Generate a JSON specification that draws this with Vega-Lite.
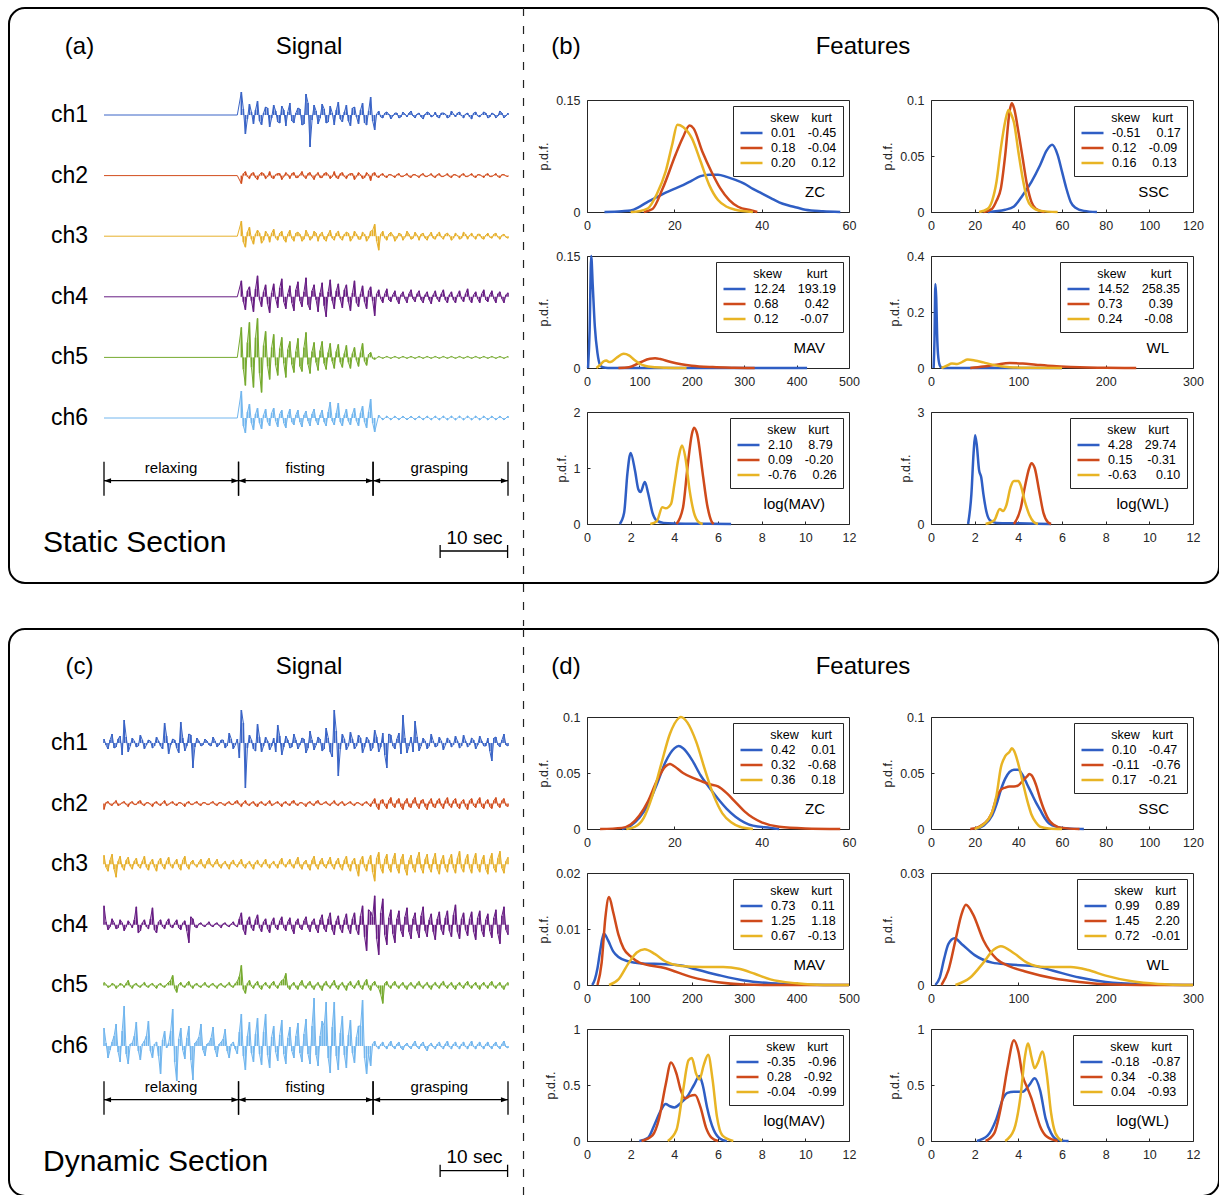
{
"$schema":"https://vega.github.io/schema/vega-lite/v6.json",
"background":"white",
"padding":{"left":7,"top":7,"right":0,"bottom":0},
"config":{"font":"Liberation Sans","view":{"stroke":null},
 "axis":{"grid":false,"domain":false,"tickColor":"#262626","tickSize":-3,"labelPadding":10,"labelFontSize":12.5,"labelColor":"#262626","labelOverlap":false,"labelFlush":false,"titleFontSize":12.5,"titleFontWeight":"normal","titleColor":"#262626","titlePadding":5},
 "legend":{"orient":"top-right","offset":6,"padding":6,"strokeColor":"#262626","fillColor":"#ffffff","symbolType":"stroke","symbolStrokeWidth":2.5,"symbolSize":484,"clipHeight":13,"rowPadding":2,"labelFontSize":12.5,"labelColor":"#000","labelOffset":7,"labelLimit":0,"titleFontSize":12.5,"titleFontWeight":"normal","titleColor":"#000","titlePadding":2,"titleLimit":0}},
"datasets":{
"seg":[{"s":0,"e":33.3,"m":16.6,"lab":"relaxing"},{"s":33.3,"e":66.6,"m":49.8,"lab":"fisting"},{"s":66.6,"e":100,"m":83,"lab":"grasping"}],
"sa1":[{"t":0,"v":0},{"t":33,"v":0},{"t":34,"v":2.3},{"t":35,"v":-1.9},{"t":36,"v":1.1},{"t":37,"v":-0.9},{"t":38,"v":1.4},{"t":39,"v":-1},{"t":40,"v":0.8},{"t":41,"v":-1.2},{"t":42,"v":1},{"t":43,"v":-0.7},{"t":44,"v":0.9},{"t":45,"v":-1.1},{"t":46,"v":1.2},{"t":47,"v":-0.8},{"t":48,"v":0.7},{"t":49,"v":-1},{"t":50,"v":2.1},{"t":51,"v":-3.2},{"t":52,"v":1},{"t":53,"v":-0.9},{"t":54,"v":1.1},{"t":55,"v":-0.8},{"t":56,"v":0.9},{"t":57,"v":-1},{"t":58,"v":1.3},{"t":59,"v":-0.7},{"t":60,"v":1},{"t":61,"v":-1.1},{"t":62,"v":0.8},{"t":63,"v":-0.9},{"t":64,"v":1.2},{"t":65,"v":-1},{"t":66,"v":1.8},{"t":67,"v":-1.5},{"t":68,"v":0.4},{"t":69,"v":-0.3},{"t":70,"v":0.3},{"t":71,"v":-0.4},{"t":72,"v":0.2},{"t":73,"v":-0.3},{"t":74,"v":0.3},{"t":75,"v":-0.2},{"t":76,"v":0.4},{"t":77,"v":-0.3},{"t":78,"v":0.2},{"t":79,"v":-0.4},{"t":80,"v":0.3},{"t":81,"v":-0.2},{"t":82,"v":0.3},{"t":83,"v":-0.3},{"t":84,"v":0.2},{"t":85,"v":-0.3},{"t":86,"v":0.4},{"t":87,"v":-0.2},{"t":88,"v":0.3},{"t":89,"v":-0.3},{"t":90,"v":0.2},{"t":91,"v":-0.4},{"t":92,"v":0.3},{"t":93,"v":-0.2},{"t":94,"v":0.3},{"t":95,"v":-0.3},{"t":96,"v":0.2},{"t":97,"v":-0.3},{"t":98,"v":0.4},{"t":99,"v":-0.3},{"t":100,"v":0.2},
{"t":34.5,"v":0.6},{"t":35.5,"v":-0.4},{"t":36.5,"v":0.3},{"t":37.5,"v":0.5},{"t":38.5,"v":-0.6},{"t":39.5,"v":0.2},{"t":40.5,"v":0.7},{"t":41.5,"v":-0.3},{"t":42.5,"v":0.4},{"t":43.5,"v":-0.8},{"t":44.5,"v":0.5},{"t":45.5,"v":0.3},{"t":46.5,"v":-0.6},{"t":47.5,"v":0.2},{"t":48.5,"v":0.6},{"t":49.5,"v":-0.9},{"t":50.5,"v":1.2},{"t":51.5,"v":-0.5},{"t":52.5,"v":0.4},{"t":53.5,"v":-0.3},{"t":54.5,"v":0.6},{"t":55.5,"v":-0.7},{"t":56.5,"v":0.2},{"t":57.5,"v":0.5},{"t":58.5,"v":-0.4},{"t":59.5,"v":0.3},{"t":60.5,"v":-0.6},{"t":61.5,"v":0.7},{"t":62.5,"v":-0.2},{"t":63.5,"v":0.5},{"t":64.5,"v":-0.8},{"t":65.5,"v":0.4},{"t":66.5,"v":-0.6},{"t":67.5,"v":0.1},{"t":68.5,"v":-0.2},{"t":69.5,"v":0.2},{"t":70.5,"v":0.1},{"t":71.5,"v":-0.1},{"t":72.5,"v":0.2},{"t":73.5,"v":-0.2},{"t":74.5,"v":0.1},{"t":75.5,"v":0.2},{"t":76.5,"v":-0.1},{"t":77.5,"v":0.1},{"t":78.5,"v":-0.2},{"t":79.5,"v":0.1},{"t":80.5,"v":0.2},{"t":81.5,"v":-0.1},{"t":82.5,"v":-0.2},{"t":83.5,"v":0.2},{"t":84.5,"v":0.1},{"t":85.5,"v":-0.2},{"t":86.5,"v":0.1},{"t":87.5,"v":0.2},{"t":88.5,"v":-0.1},{"t":89.5,"v":0.1},{"t":90.5,"v":-0.2},{"t":91.5,"v":0.2},{"t":92.5,"v":-0.1},{"t":93.5,"v":0.1},{"t":94.5,"v":0.2},{"t":95.5,"v":-0.2},{"t":96.5,"v":0.1},{"t":97.5,"v":-0.1},{"t":98.5,"v":0.2},{"t":99.5,"v":-0.1}],
"sa2":[{"t":0,"v":0},{"t":33,"v":0},{"t":34,"v":-0.8},{"t":35,"v":0.4},{"t":36,"v":-0.3},{"t":37,"v":0.3},{"t":38,"v":-0.4},{"t":39,"v":0.3},{"t":40,"v":-0.3},{"t":41,"v":0.4},{"t":42,"v":-0.3},{"t":43,"v":0.2},{"t":44,"v":-0.4},{"t":45,"v":0.3},{"t":46,"v":-0.3},{"t":47,"v":0.3},{"t":48,"v":-0.2},{"t":49,"v":0.4},{"t":50,"v":-0.3},{"t":51,"v":0.3},{"t":52,"v":-0.4},{"t":53,"v":0.3},{"t":54,"v":-0.2},{"t":55,"v":0.3},{"t":56,"v":-0.3},{"t":57,"v":0.4},{"t":58,"v":-0.3},{"t":59,"v":0.3},{"t":60,"v":-0.3},{"t":61,"v":0.2},{"t":62,"v":-0.4},{"t":63,"v":0.3},{"t":64,"v":-0.3},{"t":65,"v":0.3},{"t":66,"v":-0.5},{"t":67,"v":0.3},{"t":68,"v":-0.2},{"t":69,"v":0.2},{"t":70,"v":-0.2},{"t":71,"v":0.1},{"t":72,"v":-0.2},{"t":73,"v":0.2},{"t":74,"v":-0.1},{"t":75,"v":0.2},{"t":76,"v":-0.2},{"t":77,"v":0.1},{"t":78,"v":-0.2},{"t":79,"v":0.2},{"t":80,"v":-0.1},{"t":81,"v":0.2},{"t":82,"v":-0.2},{"t":83,"v":0.2},{"t":84,"v":-0.1},{"t":85,"v":0.2},{"t":86,"v":-0.2},{"t":87,"v":0.1},{"t":88,"v":-0.2},{"t":89,"v":0.2},{"t":90,"v":-0.1},{"t":91,"v":0.2},{"t":92,"v":-0.2},{"t":93,"v":0.1},{"t":94,"v":-0.2},{"t":95,"v":0.2},{"t":96,"v":-0.1},{"t":97,"v":0.2},{"t":98,"v":-0.2},{"t":99,"v":0.1},{"t":100,"v":-0.1},
{"t":34.5,"v":0.2},{"t":35.5,"v":-0.1},{"t":36.5,"v":0.2},{"t":37.5,"v":-0.2},{"t":38.5,"v":0.1},{"t":39.5,"v":0.2},{"t":40.5,"v":-0.1},{"t":41.5,"v":-0.2},{"t":42.5,"v":0.1},{"t":43.5,"v":0.2},{"t":44.5,"v":-0.1},{"t":45.5,"v":0.1},{"t":46.5,"v":0.2},{"t":47.5,"v":-0.2},{"t":48.5,"v":0.1},{"t":49.5,"v":-0.1},{"t":50.5,"v":0.2},{"t":51.5,"v":-0.1},{"t":52.5,"v":0.1},{"t":53.5,"v":-0.2},{"t":54.5,"v":0.2},{"t":55.5,"v":0.1},{"t":56.5,"v":-0.1},{"t":57.5,"v":-0.2},{"t":58.5,"v":0.2},{"t":59.5,"v":-0.1},{"t":60.5,"v":0.1},{"t":61.5,"v":0.2},{"t":62.5,"v":-0.1},{"t":63.5,"v":0.1},{"t":64.5,"v":-0.2},{"t":65.5,"v":0.1},{"t":66.5,"v":0.2},{"t":67.5,"v":-0.1},{"t":68.5,"v":0.1},{"t":69.5,"v":-0.1},{"t":70.5,"v":0.1},{"t":71.5,"v":-0.05},{"t":72.5,"v":0.1},{"t":73.5,"v":-0.1},{"t":74.5,"v":0.05},{"t":75.5,"v":-0.1},{"t":76.5,"v":0.1},{"t":77.5,"v":-0.05},{"t":78.5,"v":0.1},{"t":79.5,"v":-0.1},{"t":80.5,"v":0.05},{"t":81.5,"v":-0.1},{"t":82.5,"v":0.1},{"t":83.5,"v":-0.1},{"t":84.5,"v":0.05},{"t":85.5,"v":-0.1},{"t":86.5,"v":0.1},{"t":87.5,"v":-0.05},{"t":88.5,"v":0.1},{"t":89.5,"v":-0.1},{"t":90.5,"v":0.05},{"t":91.5,"v":-0.1},{"t":92.5,"v":0.1},{"t":93.5,"v":-0.05},{"t":94.5,"v":0.1},{"t":95.5,"v":-0.1},{"t":96.5,"v":0.05},{"t":97.5,"v":-0.1},{"t":98.5,"v":0.1},{"t":99.5,"v":-0.05}],
"sa3":[{"t":0,"v":0},{"t":33,"v":0},{"t":34,"v":1.5},{"t":35,"v":-1.1},{"t":36,"v":0.9},{"t":37,"v":-0.8},{"t":38,"v":0.6},{"t":39,"v":-0.7},{"t":40,"v":0.5},{"t":41,"v":-0.6},{"t":42,"v":0.7},{"t":43,"v":-0.4},{"t":44,"v":0.5},{"t":45,"v":-0.6},{"t":46,"v":0.6},{"t":47,"v":-0.5},{"t":48,"v":0.4},{"t":49,"v":-0.5},{"t":50,"v":0.6},{"t":51,"v":-0.4},{"t":52,"v":0.5},{"t":53,"v":-0.5},{"t":54,"v":0.4},{"t":55,"v":-0.5},{"t":56,"v":0.6},{"t":57,"v":-0.4},{"t":58,"v":0.5},{"t":59,"v":-0.4},{"t":60,"v":0.4},{"t":61,"v":-0.5},{"t":62,"v":0.5},{"t":63,"v":-0.3},{"t":64,"v":0.4},{"t":65,"v":-0.5},{"t":66,"v":0.5},{"t":67,"v":1.2},{"t":68,"v":-1.4},{"t":69,"v":0.5},{"t":70,"v":-0.4},{"t":71,"v":0.4},{"t":72,"v":-0.5},{"t":73,"v":0.3},{"t":74,"v":-0.4},{"t":75,"v":0.5},{"t":76,"v":-0.3},{"t":77,"v":0.4},{"t":78,"v":-0.4},{"t":79,"v":0.3},{"t":80,"v":-0.4},{"t":81,"v":0.4},{"t":82,"v":-0.3},{"t":83,"v":0.4},{"t":84,"v":-0.3},{"t":85,"v":0.3},{"t":86,"v":-0.4},{"t":87,"v":0.3},{"t":88,"v":-0.3},{"t":89,"v":0.4},{"t":90,"v":-0.3},{"t":91,"v":0.3},{"t":92,"v":-0.3},{"t":93,"v":0.2},{"t":94,"v":-0.3},{"t":95,"v":0.3},{"t":96,"v":-0.2},{"t":97,"v":0.3},{"t":98,"v":-0.3},{"t":99,"v":0.2},{"t":100,"v":-0.2},
{"t":34.5,"v":-0.6},{"t":35.5,"v":0.4},{"t":36.5,"v":-0.3},{"t":37.5,"v":0.2},{"t":38.5,"v":0.3},{"t":39.5,"v":-0.4},{"t":40.5,"v":0.2},{"t":41.5,"v":0.3},{"t":42.5,"v":-0.2},{"t":43.5,"v":0.3},{"t":44.5,"v":-0.3},{"t":45.5,"v":0.2},{"t":46.5,"v":-0.2},{"t":47.5,"v":0.3},{"t":48.5,"v":0.2},{"t":49.5,"v":-0.3},{"t":50.5,"v":0.2},{"t":51.5,"v":-0.2},{"t":52.5,"v":0.3},{"t":53.5,"v":0.2},{"t":54.5,"v":-0.3},{"t":55.5,"v":0.2},{"t":56.5,"v":-0.2},{"t":57.5,"v":0.3},{"t":58.5,"v":-0.2},{"t":59.5,"v":0.2},{"t":60.5,"v":0.3},{"t":61.5,"v":-0.2},{"t":62.5,"v":0.2},{"t":63.5,"v":-0.3},{"t":64.5,"v":0.2},{"t":65.5,"v":-0.2},{"t":66.5,"v":0.6},{"t":67.5,"v":-0.5},{"t":68.5,"v":0.2},{"t":69.5,"v":-0.2},{"t":70.5,"v":0.2},{"t":71.5,"v":0.1},{"t":72.5,"v":-0.2},{"t":73.5,"v":0.2},{"t":74.5,"v":-0.1},{"t":75.5,"v":0.2},{"t":76.5,"v":-0.2},{"t":77.5,"v":0.1},{"t":78.5,"v":0.2},{"t":79.5,"v":-0.2},{"t":80.5,"v":0.1},{"t":81.5,"v":-0.2},{"t":82.5,"v":0.2},{"t":83.5,"v":-0.1},{"t":84.5,"v":0.2},{"t":85.5,"v":0.1},{"t":86.5,"v":-0.2},{"t":87.5,"v":0.1},{"t":88.5,"v":-0.2},{"t":89.5,"v":0.2},{"t":90.5,"v":0.1},{"t":91.5,"v":-0.1},{"t":92.5,"v":0.2},{"t":93.5,"v":-0.2},{"t":94.5,"v":0.1},{"t":95.5,"v":-0.1},{"t":96.5,"v":0.2},{"t":97.5,"v":-0.1},{"t":98.5,"v":0.1},{"t":99.5,"v":-0.1}],
"sa4":[{"t":0,"v":0},{"t":33,"v":0},{"t":34,"v":1.6},{"t":35,"v":-1.3},{"t":36,"v":1},{"t":37,"v":-1.5},{"t":38,"v":2.1},{"t":39,"v":-1},{"t":40,"v":1.2},{"t":41,"v":-1.6},{"t":42,"v":1.3},{"t":43,"v":-1.1},{"t":44,"v":1.8},{"t":45,"v":-1.2},{"t":46,"v":1.1},{"t":47,"v":-1.4},{"t":48,"v":1.5},{"t":49,"v":-1},{"t":50,"v":1.9},{"t":51,"v":-1.3},{"t":52,"v":1.2},{"t":53,"v":-1.5},{"t":54,"v":1.4},{"t":55,"v":-2},{"t":56,"v":1.7},{"t":57,"v":-1.2},{"t":58,"v":1.3},{"t":59,"v":-1.1},{"t":60,"v":1.2},{"t":61,"v":-1.4},{"t":62,"v":1.6},{"t":63,"v":-1},{"t":64,"v":1.1},{"t":65,"v":-1.2},{"t":66,"v":1},{"t":67,"v":-1.9},{"t":68,"v":0.7},{"t":69,"v":-0.6},{"t":70,"v":0.8},{"t":71,"v":-0.5},{"t":72,"v":0.6},{"t":73,"v":-0.7},{"t":74,"v":0.5},{"t":75,"v":-0.6},{"t":76,"v":0.7},{"t":77,"v":-0.5},{"t":78,"v":0.6},{"t":79,"v":-0.6},{"t":80,"v":0.5},{"t":81,"v":-0.7},{"t":82,"v":0.6},{"t":83,"v":-0.5},{"t":84,"v":0.7},{"t":85,"v":-0.6},{"t":86,"v":0.5},{"t":87,"v":-0.6},{"t":88,"v":0.6},{"t":89,"v":-0.5},{"t":90,"v":0.8},{"t":91,"v":-0.6},{"t":92,"v":0.5},{"t":93,"v":-0.6},{"t":94,"v":0.7},{"t":95,"v":-0.5},{"t":96,"v":0.6},{"t":97,"v":-0.6},{"t":98,"v":0.5},{"t":99,"v":-0.6},{"t":100,"v":0.4},
{"t":34.5,"v":-0.5},{"t":35.5,"v":0.6},{"t":36.5,"v":-0.4},{"t":37.5,"v":0.8},{"t":38.5,"v":-0.3},{"t":39.5,"v":0.5},{"t":40.5,"v":-0.7},{"t":41.5,"v":0.4},{"t":42.5,"v":-0.2},{"t":43.5,"v":0.9},{"t":44.5,"v":-0.5},{"t":45.5,"v":0.3},{"t":46.5,"v":-0.6},{"t":47.5,"v":0.7},{"t":48.5,"v":-0.4},{"t":49.5,"v":0.5},{"t":50.5,"v":-0.8},{"t":51.5,"v":0.6},{"t":52.5,"v":-0.3},{"t":53.5,"v":0.4},{"t":54.5,"v":-0.9},{"t":55.5,"v":0.5},{"t":56.5,"v":-0.4},{"t":57.5,"v":0.6},{"t":58.5,"v":-0.3},{"t":59.5,"v":0.7},{"t":60.5,"v":-0.5},{"t":61.5,"v":0.4},{"t":62.5,"v":-0.6},{"t":63.5,"v":0.3},{"t":64.5,"v":-0.5},{"t":65.5,"v":0.6},{"t":66.5,"v":-0.4},{"t":67.5,"v":0.3},{"t":68.5,"v":-0.2},{"t":69.5,"v":0.3},{"t":70.5,"v":-0.3},{"t":71.5,"v":0.2},{"t":72.5,"v":-0.3},{"t":73.5,"v":0.2},{"t":74.5,"v":-0.2},{"t":75.5,"v":0.3},{"t":76.5,"v":-0.2},{"t":77.5,"v":0.3},{"t":78.5,"v":-0.3},{"t":79.5,"v":0.2},{"t":80.5,"v":-0.3},{"t":81.5,"v":0.2},{"t":82.5,"v":-0.2},{"t":83.5,"v":0.3},{"t":84.5,"v":-0.3},{"t":85.5,"v":0.2},{"t":86.5,"v":-0.3},{"t":87.5,"v":0.2},{"t":88.5,"v":-0.2},{"t":89.5,"v":0.3},{"t":90.5,"v":-0.3},{"t":91.5,"v":0.2},{"t":92.5,"v":-0.2},{"t":93.5,"v":0.3},{"t":94.5,"v":-0.3},{"t":95.5,"v":0.2},{"t":96.5,"v":-0.2},{"t":97.5,"v":0.3},{"t":98.5,"v":-0.2},{"t":99.5,"v":0.2}],
"sa5":[{"t":0,"v":0},{"t":33,"v":0},{"t":34,"v":3},{"t":35,"v":-2.8},{"t":36,"v":3.5},{"t":37,"v":-3},{"t":38,"v":3.9},{"t":39,"v":-3.5},{"t":40,"v":2.6},{"t":41,"v":-2.2},{"t":42,"v":2.3},{"t":43,"v":-1.8},{"t":44,"v":2},{"t":45,"v":-2},{"t":46,"v":1.6},{"t":47,"v":-1.5},{"t":48,"v":1.9},{"t":49,"v":-1.4},{"t":50,"v":2.5},{"t":51,"v":-1.6},{"t":52,"v":1.5},{"t":53,"v":-1.3},{"t":54,"v":1.6},{"t":55,"v":-1.2},{"t":56,"v":1.4},{"t":57,"v":-1.1},{"t":58,"v":1.3},{"t":59,"v":-1},{"t":60,"v":1.2},{"t":61,"v":-1.1},{"t":62,"v":1},{"t":63,"v":-0.9},{"t":64,"v":1.4},{"t":65,"v":-0.8},{"t":66,"v":0.5},{"t":67,"v":-0.2},{"t":68,"v":0.1},{"t":69,"v":-0.1},{"t":70,"v":0.1},{"t":71,"v":-0.1},{"t":72,"v":0.1},{"t":73,"v":-0.1},{"t":74,"v":0.1},{"t":75,"v":-0.1},{"t":76,"v":0.1},{"t":77,"v":-0.1},{"t":78,"v":0.1},{"t":79,"v":-0.1},{"t":80,"v":0.1},{"t":81,"v":-0.1},{"t":82,"v":0.1},{"t":83,"v":-0.1},{"t":84,"v":0.1},{"t":85,"v":-0.1},{"t":86,"v":0.1},{"t":87,"v":-0.1},{"t":88,"v":0.1},{"t":89,"v":-0.1},{"t":90,"v":0.1},{"t":91,"v":-0.1},{"t":92,"v":0.1},{"t":93,"v":-0.1},{"t":94,"v":0.1},{"t":95,"v":-0.1},{"t":96,"v":0.1},{"t":97,"v":-0.1},{"t":98,"v":0.1},{"t":99,"v":-0.1},{"t":100,"v":0.1},
{"t":34.5,"v":-1.2},{"t":35.5,"v":1.5},{"t":36.5,"v":-1},{"t":37.5,"v":2},{"t":38.5,"v":-1.6},{"t":39.5,"v":1.2},{"t":40.5,"v":-0.9},{"t":41.5,"v":1},{"t":42.5,"v":-0.8},{"t":43.5,"v":0.9},{"t":44.5,"v":-0.6},{"t":45.5,"v":0.8},{"t":46.5,"v":-0.7},{"t":47.5,"v":0.6},{"t":48.5,"v":-0.9},{"t":49.5,"v":1},{"t":50.5,"v":-0.7},{"t":51.5,"v":0.6},{"t":52.5,"v":-0.5},{"t":53.5,"v":0.7},{"t":54.5,"v":-0.6},{"t":55.5,"v":0.5},{"t":56.5,"v":-0.4},{"t":57.5,"v":0.6},{"t":58.5,"v":-0.5},{"t":59.5,"v":0.4},{"t":60.5,"v":-0.5},{"t":61.5,"v":0.4},{"t":62.5,"v":-0.3},{"t":63.5,"v":0.5},{"t":64.5,"v":-0.4},{"t":65.5,"v":0.3},{"t":66.5,"v":-0.1}],
"sa6":[{"t":0,"v":0},{"t":33,"v":0},{"t":34,"v":2.7},{"t":35,"v":-1.5},{"t":36,"v":1.4},{"t":37,"v":-1.2},{"t":38,"v":1},{"t":39,"v":-1.1},{"t":40,"v":0.9},{"t":41,"v":-0.8},{"t":42,"v":1},{"t":43,"v":-0.9},{"t":44,"v":0.8},{"t":45,"v":-1},{"t":46,"v":0.9},{"t":47,"v":-0.7},{"t":48,"v":0.8},{"t":49,"v":-0.9},{"t":50,"v":0.7},{"t":51,"v":-0.8},{"t":52,"v":0.9},{"t":53,"v":-0.7},{"t":54,"v":0.8},{"t":55,"v":-0.8},{"t":56,"v":1.6},{"t":57,"v":-0.7},{"t":58,"v":1.5},{"t":59,"v":-0.8},{"t":60,"v":0.9},{"t":61,"v":-0.7},{"t":62,"v":1},{"t":63,"v":-0.8},{"t":64,"v":1.2},{"t":65,"v":-1},{"t":66,"v":1.9},{"t":67,"v":-1.4},{"t":68,"v":0.3},{"t":69,"v":-0.2},{"t":70,"v":0.2},{"t":71,"v":-0.2},{"t":72,"v":0.2},{"t":73,"v":-0.2},{"t":74,"v":0.2},{"t":75,"v":-0.2},{"t":76,"v":0.2},{"t":77,"v":-0.2},{"t":78,"v":0.2},{"t":79,"v":-0.2},{"t":80,"v":0.2},{"t":81,"v":-0.2},{"t":82,"v":0.2},{"t":83,"v":-0.2},{"t":84,"v":0.2},{"t":85,"v":-0.2},{"t":86,"v":0.2},{"t":87,"v":-0.2},{"t":88,"v":0.2},{"t":89,"v":-0.2},{"t":90,"v":0.2},{"t":91,"v":-0.2},{"t":92,"v":0.2},{"t":93,"v":-0.2},{"t":94,"v":0.2},{"t":95,"v":-0.2},{"t":96,"v":0.2},{"t":97,"v":-0.2},{"t":98,"v":0.2},{"t":99,"v":-0.2},{"t":100,"v":0.2},
{"t":34.5,"v":-0.8},{"t":35.5,"v":0.6},{"t":36.5,"v":-0.5},{"t":37.5,"v":0.4},{"t":38.5,"v":-0.5},{"t":39.5,"v":0.3},{"t":40.5,"v":-0.4},{"t":41.5,"v":0.5},{"t":42.5,"v":-0.3},{"t":43.5,"v":0.4},{"t":44.5,"v":-0.5},{"t":45.5,"v":0.3},{"t":46.5,"v":-0.4},{"t":47.5,"v":0.3},{"t":48.5,"v":-0.4},{"t":49.5,"v":0.3},{"t":50.5,"v":-0.3},{"t":51.5,"v":0.4},{"t":52.5,"v":-0.3},{"t":53.5,"v":0.3},{"t":54.5,"v":-0.4},{"t":55.5,"v":0.6},{"t":56.5,"v":-0.3},{"t":57.5,"v":0.5},{"t":58.5,"v":-0.4},{"t":59.5,"v":0.3},{"t":60.5,"v":-0.3},{"t":61.5,"v":0.4},{"t":62.5,"v":-0.3},{"t":63.5,"v":0.5},{"t":64.5,"v":-0.4},{"t":65.5,"v":0.6},{"t":66.5,"v":-0.5}],
"sb1":[{"t":0,"v":0.4},{"t":1,"v":-0.6},{"t":2,"v":0.9},{"t":3,"v":-0.4},{"t":4,"v":0.7},{"t":5,"v":2.3},{"t":6,"v":-0.9},{"t":7,"v":0.5},{"t":8,"v":-0.4},{"t":9,"v":0.8},{"t":10,"v":-0.6},{"t":11,"v":0.3},{"t":12,"v":-0.5},{"t":13,"v":0.6},{"t":14,"v":-0.3},{"t":15,"v":2},{"t":16,"v":-1.1},{"t":17,"v":0.4},{"t":18,"v":-0.5},{"t":19,"v":2.1},{"t":20,"v":-0.8},{"t":21,"v":0.9},{"t":22,"v":-2.5},{"t":23,"v":0.5},{"t":24,"v":-0.3},{"t":25,"v":0.4},{"t":26,"v":-0.2},{"t":27,"v":0.6},{"t":28,"v":-0.4},{"t":29,"v":0.3},{"t":30,"v":-0.5},{"t":31,"v":1},{"t":32,"v":-0.6},{"t":33,"v":0.4},{"t":34,"v":3.3},{"t":35,"v":-4.5},{"t":36,"v":0.8},{"t":37,"v":-0.6},{"t":38,"v":1.9},{"t":39,"v":-0.9},{"t":40,"v":0.6},{"t":41,"v":-0.7},{"t":42,"v":0.5},{"t":43,"v":1.8},{"t":44,"v":-1.2},{"t":45,"v":0.7},{"t":46,"v":-0.5},{"t":47,"v":0.9},{"t":48,"v":-0.6},{"t":49,"v":0.5},{"t":50,"v":-1},{"t":51,"v":1.2},{"t":52,"v":-0.7},{"t":53,"v":0.6},{"t":54,"v":-0.8},{"t":55,"v":1.5},{"t":56,"v":-0.9},{"t":57,"v":3.3},{"t":58,"v":-3.3},{"t":59,"v":0.9},{"t":60,"v":-0.7},{"t":61,"v":1.1},{"t":62,"v":-0.6},{"t":63,"v":0.8},{"t":64,"v":-1},{"t":65,"v":0.6},{"t":66,"v":-0.8},{"t":67,"v":1.3},{"t":68,"v":-0.9},{"t":69,"v":1},{"t":70,"v":-2.5},{"t":71,"v":0.8},{"t":72,"v":-0.6},{"t":73,"v":1},{"t":74,"v":2.8},{"t":75,"v":-1},{"t":76,"v":0.6},{"t":77,"v":2.2},{"t":78,"v":-0.8},{"t":79,"v":0.5},{"t":80,"v":-0.6},{"t":81,"v":0.9},{"t":82,"v":-0.4},{"t":83,"v":0.6},{"t":84,"v":-0.7},{"t":85,"v":0.5},{"t":86,"v":-0.4},{"t":87,"v":0.7},{"t":88,"v":-0.5},{"t":89,"v":0.8},{"t":90,"v":-0.4},{"t":91,"v":0.5},{"t":92,"v":-0.6},{"t":93,"v":0.7},{"t":94,"v":-0.3},{"t":95,"v":0.5},{"t":96,"v":-1.8},{"t":97,"v":0.6},{"t":98,"v":-0.4},{"t":99,"v":0.9},{"t":100,"v":-0.3},
{"t":0.5,"v":-0.2},{"t":1.5,"v":0.3},{"t":2.5,"v":-0.5},{"t":3.5,"v":0.4},{"t":4.5,"v":-1.2},{"t":5.5,"v":0.6},{"t":6.5,"v":-0.3},{"t":7.5,"v":0.2},{"t":8.5,"v":-0.3},{"t":9.5,"v":0.3},{"t":10.5,"v":-0.2},{"t":11.5,"v":0.2},{"t":12.5,"v":-0.3},{"t":13.5,"v":0.2},{"t":14.5,"v":-0.6},{"t":15.5,"v":0.7},{"t":16.5,"v":-0.2},{"t":17.5,"v":0.3},{"t":18.5,"v":-1},{"t":19.5,"v":0.5},{"t":20.5,"v":-0.3},{"t":21.5,"v":0.8},{"t":22.5,"v":-0.4},{"t":23.5,"v":0.2},{"t":24.5,"v":-0.2},{"t":25.5,"v":0.2},{"t":26.5,"v":-0.3},{"t":27.5,"v":0.2},{"t":28.5,"v":-0.2},{"t":29.5,"v":0.3},{"t":30.5,"v":-0.3},{"t":31.5,"v":0.4},{"t":32.5,"v":-0.2},{"t":33.5,"v":-1.5},{"t":34.5,"v":2},{"t":35.5,"v":-0.5},{"t":36.5,"v":0.3},{"t":37.5,"v":-0.8},{"t":38.5,"v":0.6},{"t":39.5,"v":-0.3},{"t":40.5,"v":0.2},{"t":41.5,"v":-0.3},{"t":42.5,"v":-0.9},{"t":43.5,"v":0.7},{"t":44.5,"v":-0.4},{"t":45.5,"v":0.3},{"t":46.5,"v":-0.4},{"t":47.5,"v":0.3},{"t":48.5,"v":-0.2},{"t":49.5,"v":0.4},{"t":50.5,"v":-0.5},{"t":51.5,"v":0.3},{"t":52.5,"v":-0.2},{"t":53.5,"v":0.4},{"t":54.5,"v":-0.6},{"t":55.5,"v":0.5},{"t":56.5,"v":-1.4},{"t":57.5,"v":1.2},{"t":58.5,"v":-0.6},{"t":59.5,"v":0.4},{"t":60.5,"v":-0.3},{"t":61.5,"v":0.4},{"t":62.5,"v":-0.3},{"t":63.5,"v":0.5},{"t":64.5,"v":-0.4},{"t":65.5,"v":0.3},{"t":66.5,"v":-0.5},{"t":67.5,"v":0.6},{"t":68.5,"v":-0.4},{"t":69.5,"v":-1.2},{"t":70.5,"v":0.9},{"t":71.5,"v":-0.3},{"t":72.5,"v":0.4},{"t":73.5,"v":-1.1},{"t":74.5,"v":0.5},{"t":75.5,"v":-0.3},{"t":76.5,"v":-0.9},{"t":77.5,"v":0.6},{"t":78.5,"v":-0.3},{"t":79.5,"v":0.2},{"t":80.5,"v":-0.3},{"t":81.5,"v":0.2},{"t":82.5,"v":-0.3},{"t":83.5,"v":0.2},{"t":84.5,"v":-0.2},{"t":85.5,"v":0.3},{"t":86.5,"v":-0.2},{"t":87.5,"v":0.2},{"t":88.5,"v":-0.3},{"t":89.5,"v":0.2},{"t":90.5,"v":-0.2},{"t":91.5,"v":0.3},{"t":92.5,"v":-0.2},{"t":93.5,"v":0.2},{"t":94.5,"v":-0.3},{"t":95.5,"v":-0.8},{"t":96.5,"v":0.5},{"t":97.5,"v":-0.2},{"t":98.5,"v":0.3},{"t":99.5,"v":-0.2}],
"sb2":[{"t":0,"v":-0.6},{"t":1,"v":0.2},{"t":2,"v":-0.2},{"t":3,"v":0.3},{"t":4,"v":-0.1},{"t":5,"v":0.2},{"t":6,"v":-0.3},{"t":7,"v":0.2},{"t":8,"v":-0.1},{"t":9,"v":0.3},{"t":10,"v":-0.2},{"t":11,"v":0.1},{"t":12,"v":-0.3},{"t":13,"v":0.2},{"t":14,"v":-0.2},{"t":15,"v":0.3},{"t":16,"v":-0.1},{"t":17,"v":0.2},{"t":18,"v":-0.2},{"t":19,"v":0.1},{"t":20,"v":-0.3},{"t":21,"v":0.2},{"t":22,"v":-0.1},{"t":23,"v":0.2},{"t":24,"v":-0.2},{"t":25,"v":0.1},{"t":26,"v":-0.1},{"t":27,"v":0.2},{"t":28,"v":-0.2},{"t":29,"v":0.1},{"t":30,"v":-0.2},{"t":31,"v":0.2},{"t":32,"v":-0.1},{"t":33,"v":0.3},{"t":34,"v":-0.3},{"t":35,"v":0.3},{"t":36,"v":-0.2},{"t":37,"v":0.2},{"t":38,"v":-0.3},{"t":39,"v":0.2},{"t":40,"v":-0.2},{"t":41,"v":0.3},{"t":42,"v":-0.1},{"t":43,"v":0.2},{"t":44,"v":-0.3},{"t":45,"v":0.2},{"t":46,"v":-0.2},{"t":47,"v":0.3},{"t":48,"v":-0.2},{"t":49,"v":0.1},{"t":50,"v":-0.3},{"t":51,"v":0.2},{"t":52,"v":-0.2},{"t":53,"v":0.3},{"t":54,"v":-0.1},{"t":55,"v":0.2},{"t":56,"v":-0.2},{"t":57,"v":0.3},{"t":58,"v":-0.2},{"t":59,"v":0.2},{"t":60,"v":-0.1},{"t":61,"v":0.2},{"t":62,"v":-0.2},{"t":63,"v":0.1},{"t":64,"v":-0.2},{"t":65,"v":0.2},{"t":66,"v":-0.3},{"t":67,"v":0.5},{"t":68,"v":-0.6},{"t":69,"v":0.4},{"t":70,"v":-0.5},{"t":71,"v":0.6},{"t":72,"v":-0.4},{"t":73,"v":0.5},{"t":74,"v":-0.6},{"t":75,"v":0.5},{"t":76,"v":-0.4},{"t":77,"v":0.6},{"t":78,"v":-0.5},{"t":79,"v":0.4},{"t":80,"v":-0.6},{"t":81,"v":0.5},{"t":82,"v":-0.4},{"t":83,"v":0.5},{"t":84,"v":-0.5},{"t":85,"v":0.6},{"t":86,"v":-0.4},{"t":87,"v":0.5},{"t":88,"v":-0.5},{"t":89,"v":0.4},{"t":90,"v":-0.6},{"t":91,"v":0.5},{"t":92,"v":-0.4},{"t":93,"v":0.6},{"t":94,"v":-0.5},{"t":95,"v":0.4},{"t":96,"v":-0.5},{"t":97,"v":0.6},{"t":98,"v":-0.4},{"t":99,"v":0.5},{"t":100,"v":-0.3},
{"t":0.5,"v":0.1},{"t":1.5,"v":-0.1},{"t":2.5,"v":0.1},{"t":3.5,"v":-0.2},{"t":4.5,"v":0.1},{"t":5.5,"v":-0.1},{"t":6.5,"v":0.1},{"t":7.5,"v":-0.1},{"t":8.5,"v":0.2},{"t":9.5,"v":-0.1},{"t":10.5,"v":0.1},{"t":11.5,"v":-0.1},{"t":12.5,"v":0.1},{"t":13.5,"v":-0.1},{"t":14.5,"v":0.1},{"t":15.5,"v":-0.2},{"t":16.5,"v":0.1},{"t":17.5,"v":-0.1},{"t":18.5,"v":0.1},{"t":19.5,"v":-0.1},{"t":20.5,"v":0.1},{"t":21.5,"v":-0.1},{"t":22.5,"v":0.1},{"t":23.5,"v":-0.1},{"t":24.5,"v":0.1},{"t":25.5,"v":-0.1},{"t":26.5,"v":0.1},{"t":27.5,"v":-0.1},{"t":28.5,"v":0.1},{"t":29.5,"v":-0.1},{"t":30.5,"v":0.1},{"t":31.5,"v":-0.1},{"t":32.5,"v":0.2},{"t":33.5,"v":-0.1},{"t":34.5,"v":0.1},{"t":35.5,"v":-0.1},{"t":36.5,"v":0.1},{"t":37.5,"v":-0.2},{"t":38.5,"v":0.1},{"t":39.5,"v":-0.1},{"t":40.5,"v":0.1},{"t":41.5,"v":-0.2},{"t":42.5,"v":0.1},{"t":43.5,"v":-0.1},{"t":44.5,"v":0.1},{"t":45.5,"v":-0.1},{"t":46.5,"v":0.2},{"t":47.5,"v":-0.1},{"t":48.5,"v":0.1},{"t":49.5,"v":-0.1},{"t":50.5,"v":0.1},{"t":51.5,"v":-0.1},{"t":52.5,"v":0.2},{"t":53.5,"v":-0.1},{"t":54.5,"v":0.1},{"t":55.5,"v":-0.1},{"t":56.5,"v":0.1},{"t":57.5,"v":-0.1},{"t":58.5,"v":0.1},{"t":59.5,"v":-0.2},{"t":60.5,"v":0.1},{"t":61.5,"v":-0.1},{"t":62.5,"v":0.1},{"t":63.5,"v":-0.1},{"t":64.5,"v":0.1},{"t":65.5,"v":-0.1},{"t":66.5,"v":0.2},{"t":67.5,"v":-0.3},{"t":68.5,"v":0.3},{"t":69.5,"v":-0.2},{"t":70.5,"v":0.3},{"t":71.5,"v":-0.2},{"t":72.5,"v":0.3},{"t":73.5,"v":-0.3},{"t":74.5,"v":0.2},{"t":75.5,"v":-0.3},{"t":76.5,"v":0.3},{"t":77.5,"v":-0.2},{"t":78.5,"v":0.3},{"t":79.5,"v":-0.3},{"t":80.5,"v":0.2},{"t":81.5,"v":-0.3},{"t":82.5,"v":0.3},{"t":83.5,"v":-0.2},{"t":84.5,"v":0.3},{"t":85.5,"v":-0.2},{"t":86.5,"v":0.3},{"t":87.5,"v":-0.3},{"t":88.5,"v":0.2},{"t":89.5,"v":-0.3},{"t":90.5,"v":0.3},{"t":91.5,"v":-0.2},{"t":92.5,"v":0.3},{"t":93.5,"v":-0.3},{"t":94.5,"v":0.2},{"t":95.5,"v":-0.3},{"t":96.5,"v":0.3},{"t":97.5,"v":-0.2},{"t":98.5,"v":0.3},{"t":99.5,"v":-0.2}],
"sb3":[{"t":0,"v":0.9},{"t":1,"v":-0.7},{"t":2,"v":1},{"t":3,"v":-1.3},{"t":4,"v":0.8},{"t":5,"v":-0.6},{"t":6,"v":0.7},{"t":7,"v":-0.5},{"t":8,"v":0.6},{"t":9,"v":-0.4},{"t":10,"v":0.8},{"t":11,"v":-0.6},{"t":12,"v":0.5},{"t":13,"v":-0.7},{"t":14,"v":0.6},{"t":15,"v":-0.5},{"t":16,"v":0.7},{"t":17,"v":-0.4},{"t":18,"v":0.5},{"t":19,"v":-0.6},{"t":20,"v":0.8},{"t":21,"v":-0.5},{"t":22,"v":0.4},{"t":23,"v":-0.3},{"t":24,"v":0.5},{"t":25,"v":-0.4},{"t":26,"v":0.6},{"t":27,"v":-0.3},{"t":28,"v":0.5},{"t":29,"v":-0.4},{"t":30,"v":0.3},{"t":31,"v":-0.5},{"t":32,"v":0.4},{"t":33,"v":-0.3},{"t":34,"v":0.5},{"t":35,"v":-0.4},{"t":36,"v":0.3},{"t":37,"v":-0.5},{"t":38,"v":0.4},{"t":39,"v":-0.3},{"t":40,"v":0.5},{"t":41,"v":-0.4},{"t":42,"v":0.3},{"t":43,"v":-0.4},{"t":44,"v":0.6},{"t":45,"v":-0.3},{"t":46,"v":0.5},{"t":47,"v":-0.4},{"t":48,"v":0.7},{"t":49,"v":-0.5},{"t":50,"v":0.4},{"t":51,"v":-0.6},{"t":52,"v":0.8},{"t":53,"v":-0.5},{"t":54,"v":0.6},{"t":55,"v":-0.4},{"t":56,"v":0.7},{"t":57,"v":-0.5},{"t":58,"v":0.6},{"t":59,"v":-0.6},{"t":60,"v":0.8},{"t":61,"v":-0.7},{"t":62,"v":0.6},{"t":63,"v":-1.2},{"t":64,"v":0.8},{"t":65,"v":-0.7},{"t":66,"v":0.9},{"t":67,"v":-1.7},{"t":68,"v":1.2},{"t":69,"v":-0.9},{"t":70,"v":1},{"t":71,"v":-0.8},{"t":72,"v":1.1},{"t":73,"v":-0.9},{"t":74,"v":1},{"t":75,"v":-1.1},{"t":76,"v":0.9},{"t":77,"v":-0.8},{"t":78,"v":1.2},{"t":79,"v":-0.9},{"t":80,"v":1},{"t":81,"v":-0.8},{"t":82,"v":1.1},{"t":83,"v":-1},{"t":84,"v":0.9},{"t":85,"v":-0.8},{"t":86,"v":1},{"t":87,"v":-0.9},{"t":88,"v":1.3},{"t":89,"v":-0.8},{"t":90,"v":1},{"t":91,"v":-0.9},{"t":92,"v":1.1},{"t":93,"v":-0.8},{"t":94,"v":0.9},{"t":95,"v":-1},{"t":96,"v":1.1},{"t":97,"v":-0.8},{"t":98,"v":1.3},{"t":99,"v":-0.9},{"t":100,"v":0.7},
{"t":0.5,"v":-0.3},{"t":1.5,"v":0.4},{"t":2.5,"v":-0.5},{"t":3.5,"v":0.3},{"t":4.5,"v":-0.3},{"t":5.5,"v":0.4},{"t":6.5,"v":-0.2},{"t":7.5,"v":0.3},{"t":8.5,"v":-0.2},{"t":9.5,"v":0.3},{"t":10.5,"v":-0.3},{"t":11.5,"v":0.2},{"t":12.5,"v":-0.3},{"t":13.5,"v":0.3},{"t":14.5,"v":-0.2},{"t":15.5,"v":0.3},{"t":16.5,"v":-0.2},{"t":17.5,"v":0.2},{"t":18.5,"v":-0.3},{"t":19.5,"v":0.4},{"t":20.5,"v":-0.2},{"t":21.5,"v":0.2},{"t":22.5,"v":-0.1},{"t":23.5,"v":0.2},{"t":24.5,"v":-0.2},{"t":25.5,"v":0.3},{"t":26.5,"v":-0.1},{"t":27.5,"v":0.2},{"t":28.5,"v":-0.2},{"t":29.5,"v":0.1},{"t":30.5,"v":-0.2},{"t":31.5,"v":0.2},{"t":32.5,"v":-0.1},{"t":33.5,"v":0.2},{"t":34.5,"v":-0.2},{"t":35.5,"v":0.1},{"t":36.5,"v":-0.2},{"t":37.5,"v":0.2},{"t":38.5,"v":-0.1},{"t":39.5,"v":0.2},{"t":40.5,"v":-0.2},{"t":41.5,"v":0.1},{"t":42.5,"v":-0.2},{"t":43.5,"v":0.3},{"t":44.5,"v":-0.1},{"t":45.5,"v":0.2},{"t":46.5,"v":-0.2},{"t":47.5,"v":0.3},{"t":48.5,"v":-0.2},{"t":49.5,"v":0.2},{"t":50.5,"v":-0.3},{"t":51.5,"v":0.4},{"t":52.5,"v":-0.2},{"t":53.5,"v":0.3},{"t":54.5,"v":-0.2},{"t":55.5,"v":0.3},{"t":56.5,"v":-0.2},{"t":57.5,"v":0.3},{"t":58.5,"v":-0.3},{"t":59.5,"v":0.4},{"t":60.5,"v":-0.3},{"t":61.5,"v":0.3},{"t":62.5,"v":-0.5},{"t":63.5,"v":0.4},{"t":64.5,"v":-0.3},{"t":65.5,"v":0.4},{"t":66.5,"v":-0.8},{"t":67.5,"v":0.6},{"t":68.5,"v":-0.4},{"t":69.5,"v":0.5},{"t":70.5,"v":-0.4},{"t":71.5,"v":0.5},{"t":72.5,"v":-0.4},{"t":73.5,"v":0.5},{"t":74.5,"v":-0.5},{"t":75.5,"v":0.4},{"t":76.5,"v":-0.4},{"t":77.5,"v":0.6},{"t":78.5,"v":-0.4},{"t":79.5,"v":0.5},{"t":80.5,"v":-0.4},{"t":81.5,"v":0.5},{"t":82.5,"v":-0.5},{"t":83.5,"v":0.4},{"t":84.5,"v":-0.4},{"t":85.5,"v":0.5},{"t":86.5,"v":-0.4},{"t":87.5,"v":0.6},{"t":88.5,"v":-0.4},{"t":89.5,"v":0.5},{"t":90.5,"v":-0.4},{"t":91.5,"v":0.5},{"t":92.5,"v":-0.4},{"t":93.5,"v":0.4},{"t":94.5,"v":-0.5},{"t":95.5,"v":0.5},{"t":96.5,"v":-0.4},{"t":97.5,"v":0.6},{"t":98.5,"v":-0.4},{"t":99.5,"v":0.3}],
"sb4":[{"t":0,"v":1.9},{"t":1,"v":-0.5},{"t":2,"v":0.6},{"t":3,"v":-0.4},{"t":4,"v":0.5},{"t":5,"v":-0.6},{"t":6,"v":0.4},{"t":7,"v":-0.3},{"t":8,"v":1.8},{"t":9,"v":-0.6},{"t":10,"v":0.5},{"t":11,"v":-0.4},{"t":12,"v":1.7},{"t":13,"v":-0.8},{"t":14,"v":0.5},{"t":15,"v":-0.4},{"t":16,"v":0.6},{"t":17,"v":-0.3},{"t":18,"v":0.5},{"t":19,"v":-0.5},{"t":20,"v":0.4},{"t":21,"v":-1.8},{"t":22,"v":0.6},{"t":23,"v":-0.3},{"t":24,"v":0.2},{"t":25,"v":-0.2},{"t":26,"v":0.3},{"t":27,"v":-0.2},{"t":28,"v":0.2},{"t":29,"v":-0.3},{"t":30,"v":0.2},{"t":31,"v":-0.2},{"t":32,"v":0.3},{"t":33,"v":-0.2},{"t":34,"v":1.2},{"t":35,"v":-1},{"t":36,"v":0.8},{"t":37,"v":-0.6},{"t":38,"v":1},{"t":39,"v":-0.7},{"t":40,"v":0.6},{"t":41,"v":-0.8},{"t":42,"v":0.7},{"t":43,"v":-0.5},{"t":44,"v":0.8},{"t":45,"v":-0.6},{"t":46,"v":0.7},{"t":47,"v":-0.9},{"t":48,"v":0.6},{"t":49,"v":-0.5},{"t":50,"v":0.8},{"t":51,"v":-0.7},{"t":52,"v":0.6},{"t":53,"v":-0.8},{"t":54,"v":1},{"t":55,"v":-0.7},{"t":56,"v":1.2},{"t":57,"v":-1},{"t":58,"v":0.9},{"t":59,"v":-0.8},{"t":60,"v":1.1},{"t":61,"v":-0.9},{"t":62,"v":1.2},{"t":63,"v":-1},{"t":64,"v":1.9},{"t":65,"v":-2.6},{"t":66,"v":1.3},{"t":67,"v":2.9},{"t":68,"v":-3},{"t":69,"v":2.6},{"t":70,"v":-2},{"t":71,"v":1.5},{"t":72,"v":-1.8},{"t":73,"v":1.4},{"t":74,"v":-1.2},{"t":75,"v":1.7},{"t":76,"v":-1.4},{"t":77,"v":1.2},{"t":78,"v":-1.3},{"t":79,"v":1.8},{"t":80,"v":-1.2},{"t":81,"v":1.1},{"t":82,"v":-1.5},{"t":83,"v":1.3},{"t":84,"v":-1},{"t":85,"v":1.4},{"t":86,"v":-1.2},{"t":87,"v":2},{"t":88,"v":-1.4},{"t":89,"v":1.2},{"t":90,"v":-1.1},{"t":91,"v":1.3},{"t":92,"v":-1.5},{"t":93,"v":1.4},{"t":94,"v":-1.2},{"t":95,"v":1.1},{"t":96,"v":-1.3},{"t":97,"v":1.5},{"t":98,"v":-1.9},{"t":99,"v":1.8},{"t":100,"v":-1},
{"t":0.5,"v":0.3},{"t":1.5,"v":-0.2},{"t":2.5,"v":0.2},{"t":3.5,"v":-0.3},{"t":4.5,"v":0.2},{"t":5.5,"v":-0.2},{"t":6.5,"v":0.1},{"t":7.5,"v":0.5},{"t":8.5,"v":-0.8},{"t":9.5,"v":0.2},{"t":10.5,"v":-0.2},{"t":11.5,"v":0.6},{"t":12.5,"v":-0.5},{"t":13.5,"v":0.3},{"t":14.5,"v":-0.2},{"t":15.5,"v":0.3},{"t":16.5,"v":-0.2},{"t":17.5,"v":0.2},{"t":18.5,"v":-0.3},{"t":19.5,"v":0.2},{"t":20.5,"v":-0.6},{"t":21.5,"v":0.8},{"t":22.5,"v":-0.2},{"t":23.5,"v":0.1},{"t":24.5,"v":-0.1},{"t":25.5,"v":0.1},{"t":26.5,"v":-0.1},{"t":27.5,"v":0.1},{"t":28.5,"v":-0.1},{"t":29.5,"v":0.1},{"t":30.5,"v":-0.1},{"t":31.5,"v":0.1},{"t":32.5,"v":-0.1},{"t":33.5,"v":0.6},{"t":34.5,"v":-0.5},{"t":35.5,"v":0.4},{"t":36.5,"v":-0.3},{"t":37.5,"v":0.5},{"t":38.5,"v":-0.3},{"t":39.5,"v":0.3},{"t":40.5,"v":-0.4},{"t":41.5,"v":0.3},{"t":42.5,"v":-0.3},{"t":43.5,"v":0.4},{"t":44.5,"v":-0.3},{"t":45.5,"v":0.3},{"t":46.5,"v":-0.4},{"t":47.5,"v":0.3},{"t":48.5,"v":-0.3},{"t":49.5,"v":0.4},{"t":50.5,"v":-0.3},{"t":51.5,"v":0.3},{"t":52.5,"v":-0.4},{"t":53.5,"v":0.5},{"t":54.5,"v":-0.4},{"t":55.5,"v":0.6},{"t":56.5,"v":-0.5},{"t":57.5,"v":0.4},{"t":58.5,"v":-0.4},{"t":59.5,"v":0.5},{"t":60.5,"v":-0.4},{"t":61.5,"v":0.6},{"t":62.5,"v":-0.5},{"t":63.5,"v":0.9},{"t":64.5,"v":-1.2},{"t":65.5,"v":1.5},{"t":66.5,"v":0.8},{"t":67.5,"v":-1.4},{"t":68.5,"v":1.2},{"t":69.5,"v":-1},{"t":70.5,"v":0.7},{"t":71.5,"v":-0.9},{"t":72.5,"v":0.6},{"t":73.5,"v":-0.6},{"t":74.5,"v":0.8},{"t":75.5,"v":-0.7},{"t":76.5,"v":0.6},{"t":77.5,"v":-0.6},{"t":78.5,"v":0.9},{"t":79.5,"v":-0.6},{"t":80.5,"v":0.5},{"t":81.5,"v":-0.7},{"t":82.5,"v":0.6},{"t":83.5,"v":-0.5},{"t":84.5,"v":0.7},{"t":85.5,"v":-0.6},{"t":86.5,"v":1},{"t":87.5,"v":-0.7},{"t":88.5,"v":0.6},{"t":89.5,"v":-0.5},{"t":90.5,"v":0.6},{"t":91.5,"v":-0.7},{"t":92.5,"v":0.7},{"t":93.5,"v":-0.6},{"t":94.5,"v":0.5},{"t":95.5,"v":-0.6},{"t":96.5,"v":0.7},{"t":97.5,"v":-0.9},{"t":98.5,"v":0.9},{"t":99.5,"v":-0.5}],
"sb5":[{"t":0,"v":0.3},{"t":1,"v":-0.2},{"t":2,"v":0.2},{"t":3,"v":-0.3},{"t":4,"v":0.2},{"t":5,"v":-0.2},{"t":6,"v":0.5},{"t":7,"v":-0.3},{"t":8,"v":0.2},{"t":9,"v":-0.2},{"t":10,"v":0.3},{"t":11,"v":-0.2},{"t":12,"v":0.2},{"t":13,"v":-0.3},{"t":14,"v":0.2},{"t":15,"v":-0.2},{"t":16,"v":0.3},{"t":17,"v":1},{"t":18,"v":-0.7},{"t":19,"v":0.3},{"t":20,"v":-0.2},{"t":21,"v":0.4},{"t":22,"v":-0.3},{"t":23,"v":0.2},{"t":24,"v":-0.2},{"t":25,"v":0.3},{"t":26,"v":-0.2},{"t":27,"v":0.2},{"t":28,"v":-0.3},{"t":29,"v":0.2},{"t":30,"v":-0.2},{"t":31,"v":0.3},{"t":32,"v":-0.2},{"t":33,"v":0.4},{"t":34,"v":2},{"t":35,"v":-0.8},{"t":36,"v":0.5},{"t":37,"v":-0.3},{"t":38,"v":0.4},{"t":39,"v":-0.4},{"t":40,"v":0.3},{"t":41,"v":-0.3},{"t":42,"v":0.4},{"t":43,"v":-0.3},{"t":44,"v":0.5},{"t":45,"v":1.2},{"t":46,"v":-0.4},{"t":47,"v":0.3},{"t":48,"v":-0.4},{"t":49,"v":0.5},{"t":50,"v":-0.3},{"t":51,"v":0.4},{"t":52,"v":-0.4},{"t":53,"v":0.3},{"t":54,"v":-0.5},{"t":55,"v":0.4},{"t":56,"v":-0.3},{"t":57,"v":0.5},{"t":58,"v":-0.4},{"t":59,"v":0.3},{"t":60,"v":-0.5},{"t":61,"v":0.4},{"t":62,"v":-0.3},{"t":63,"v":0.5},{"t":64,"v":-0.4},{"t":65,"v":0.6},{"t":66,"v":-0.5},{"t":67,"v":0.4},{"t":68,"v":-0.3},{"t":69,"v":-1.8},{"t":70,"v":0.4},{"t":71,"v":-0.3},{"t":72,"v":0.4},{"t":73,"v":-0.3},{"t":74,"v":0.3},{"t":75,"v":-0.4},{"t":76,"v":0.3},{"t":77,"v":-0.3},{"t":78,"v":0.4},{"t":79,"v":-0.3},{"t":80,"v":0.3},{"t":81,"v":-0.4},{"t":82,"v":0.3},{"t":83,"v":-0.3},{"t":84,"v":0.4},{"t":85,"v":-0.3},{"t":86,"v":0.3},{"t":87,"v":-0.4},{"t":88,"v":0.3},{"t":89,"v":-0.3},{"t":90,"v":0.4},{"t":91,"v":-0.3},{"t":92,"v":0.3},{"t":93,"v":-0.4},{"t":94,"v":0.3},{"t":95,"v":-0.3},{"t":96,"v":0.4},{"t":97,"v":-0.3},{"t":98,"v":0.3},{"t":99,"v":-0.4},{"t":100,"v":0.3},
{"t":0.5,"v":0.1},{"t":1.5,"v":-0.1},{"t":2.5,"v":0.1},{"t":3.5,"v":-0.1},{"t":4.5,"v":0.1},{"t":5.5,"v":0.2},{"t":6.5,"v":-0.1},{"t":7.5,"v":0.1},{"t":8.5,"v":-0.1},{"t":9.5,"v":0.1},{"t":10.5,"v":-0.1},{"t":11.5,"v":0.1},{"t":12.5,"v":-0.1},{"t":13.5,"v":0.1},{"t":14.5,"v":-0.1},{"t":15.5,"v":0.1},{"t":16.5,"v":0.5},{"t":17.5,"v":-0.3},{"t":18.5,"v":0.1},{"t":19.5,"v":-0.1},{"t":20.5,"v":0.2},{"t":21.5,"v":-0.1},{"t":22.5,"v":0.1},{"t":23.5,"v":-0.1},{"t":24.5,"v":0.1},{"t":25.5,"v":-0.1},{"t":26.5,"v":0.1},{"t":27.5,"v":-0.1},{"t":28.5,"v":0.1},{"t":29.5,"v":-0.1},{"t":30.5,"v":0.1},{"t":31.5,"v":-0.1},{"t":32.5,"v":0.2},{"t":33.5,"v":0.9},{"t":34.5,"v":-0.4},{"t":35.5,"v":0.2},{"t":36.5,"v":-0.1},{"t":37.5,"v":0.2},{"t":38.5,"v":-0.2},{"t":39.5,"v":0.1},{"t":40.5,"v":-0.1},{"t":41.5,"v":0.2},{"t":42.5,"v":-0.1},{"t":43.5,"v":0.2},{"t":44.5,"v":0.6},{"t":45.5,"v":-0.2},{"t":46.5,"v":0.1},{"t":47.5,"v":-0.2},{"t":48.5,"v":0.2},{"t":49.5,"v":-0.1},{"t":50.5,"v":0.2},{"t":51.5,"v":-0.2},{"t":52.5,"v":0.1},{"t":53.5,"v":-0.2},{"t":54.5,"v":0.2},{"t":55.5,"v":-0.1},{"t":56.5,"v":0.2},{"t":57.5,"v":-0.2},{"t":58.5,"v":0.1},{"t":59.5,"v":-0.2},{"t":60.5,"v":0.2},{"t":61.5,"v":-0.1},{"t":62.5,"v":0.2},{"t":63.5,"v":-0.2},{"t":64.5,"v":0.3},{"t":65.5,"v":-0.2},{"t":66.5,"v":0.2},{"t":67.5,"v":-0.1},{"t":68.5,"v":-0.9},{"t":69.5,"v":0.2},{"t":70.5,"v":-0.1},{"t":71.5,"v":0.2},{"t":72.5,"v":-0.1},{"t":73.5,"v":0.1},{"t":74.5,"v":-0.2},{"t":75.5,"v":0.1},{"t":76.5,"v":-0.1},{"t":77.5,"v":0.2},{"t":78.5,"v":-0.1},{"t":79.5,"v":0.1},{"t":80.5,"v":-0.2},{"t":81.5,"v":0.1},{"t":82.5,"v":-0.1},{"t":83.5,"v":0.2},{"t":84.5,"v":-0.1},{"t":85.5,"v":0.1},{"t":86.5,"v":-0.2},{"t":87.5,"v":0.1},{"t":88.5,"v":-0.1},{"t":89.5,"v":0.2},{"t":90.5,"v":-0.1},{"t":91.5,"v":0.1},{"t":92.5,"v":-0.2},{"t":93.5,"v":0.1},{"t":94.5,"v":-0.1},{"t":95.5,"v":0.2},{"t":96.5,"v":-0.1},{"t":97.5,"v":0.1},{"t":98.5,"v":-0.2},{"t":99.5,"v":0.1}],
"sb6":[{"t":0,"v":1.8},{"t":1,"v":-1.2},{"t":2,"v":0.4},{"t":3,"v":2.2},{"t":4,"v":-1.6},{"t":5,"v":4},{"t":6,"v":-1.8},{"t":7,"v":0.3},{"t":8,"v":2.4},{"t":9,"v":-1.4},{"t":10,"v":0.5},{"t":11,"v":2.5},{"t":12,"v":-1.2},{"t":13,"v":0.4},{"t":14,"v":-2.8},{"t":15,"v":1.5},{"t":16,"v":0.3},{"t":17,"v":3.7},{"t":18,"v":-3.5},{"t":19,"v":1.8},{"t":20,"v":-1.3},{"t":21,"v":2},{"t":22,"v":-3.4},{"t":23,"v":0.5},{"t":24,"v":2.2},{"t":25,"v":-1},{"t":26,"v":0.3},{"t":27,"v":1.9},{"t":28,"v":-1.1},{"t":29,"v":0.4},{"t":30,"v":1.7},{"t":31,"v":-1.2},{"t":32,"v":0.4},{"t":33,"v":-0.8},{"t":34,"v":3.2},{"t":35,"v":-2.4},{"t":36,"v":2.4},{"t":37,"v":-1.6},{"t":38,"v":2.8},{"t":39,"v":-1.9},{"t":40,"v":3.2},{"t":41,"v":-2.2},{"t":42,"v":2},{"t":43,"v":-1.5},{"t":44,"v":2.6},{"t":45,"v":-1.8},{"t":46,"v":1.9},{"t":47,"v":-1.2},{"t":48,"v":2.3},{"t":49,"v":-1.6},{"t":50,"v":2.7},{"t":51,"v":-1.8},{"t":52,"v":4.8},{"t":53,"v":-2},{"t":54,"v":2.5},{"t":55,"v":4.4},{"t":56,"v":-2.7},{"t":57,"v":4.4},{"t":58,"v":-2.4},{"t":59,"v":3},{"t":60,"v":-2.2},{"t":61,"v":2.6},{"t":62,"v":-1.7},{"t":63,"v":2},{"t":64,"v":4.6},{"t":65,"v":-2.8},{"t":66,"v":-2},{"t":67,"v":0.5},{"t":68,"v":-0.3},{"t":69,"v":0.4},{"t":70,"v":-0.3},{"t":71,"v":0.5},{"t":72,"v":-0.3},{"t":73,"v":0.4},{"t":74,"v":-0.4},{"t":75,"v":0.3},{"t":76,"v":-0.3},{"t":77,"v":0.5},{"t":78,"v":-0.3},{"t":79,"v":0.4},{"t":80,"v":-0.5},{"t":81,"v":0.3},{"t":82,"v":-0.3},{"t":83,"v":0.4},{"t":84,"v":-0.3},{"t":85,"v":0.5},{"t":86,"v":-0.3},{"t":87,"v":0.4},{"t":88,"v":-0.3},{"t":89,"v":0.4},{"t":90,"v":-0.3},{"t":91,"v":0.5},{"t":92,"v":-0.3},{"t":93,"v":0.4},{"t":94,"v":-0.3},{"t":95,"v":0.4},{"t":96,"v":-0.3},{"t":97,"v":0.4},{"t":98,"v":-0.3},{"t":99,"v":0.5},{"t":100,"v":-0.2},
{"t":0.5,"v":0.3},{"t":1.5,"v":-0.4},{"t":2.5,"v":1},{"t":3.5,"v":-0.6},{"t":4.5,"v":1.5},{"t":5.5,"v":-0.8},{"t":6.5,"v":0.2},{"t":7.5,"v":1},{"t":8.5,"v":-0.5},{"t":9.5,"v":0.2},{"t":10.5,"v":1},{"t":11.5,"v":-0.5},{"t":12.5,"v":0.2},{"t":13.5,"v":-1},{"t":14.5,"v":0.6},{"t":15.5,"v":-0.2},{"t":16.5,"v":1.5},{"t":17.5,"v":-1.6},{"t":18.5,"v":0.7},{"t":19.5,"v":-0.4},{"t":20.5,"v":0.8},{"t":21.5,"v":-1.4},{"t":22.5,"v":0.3},{"t":23.5,"v":0.9},{"t":24.5,"v":-0.4},{"t":25.5,"v":0.2},{"t":26.5,"v":0.8},{"t":27.5,"v":-0.4},{"t":28.5,"v":0.2},{"t":29.5,"v":0.7},{"t":30.5,"v":-0.5},{"t":31.5,"v":0.2},{"t":32.5,"v":-0.3},{"t":33.5,"v":1.4},{"t":34.5,"v":-1},{"t":35.5,"v":1},{"t":36.5,"v":-0.7},{"t":37.5,"v":1.2},{"t":38.5,"v":-0.8},{"t":39.5,"v":1.4},{"t":40.5,"v":-0.9},{"t":41.5,"v":0.9},{"t":42.5,"v":-0.6},{"t":43.5,"v":1.1},{"t":44.5,"v":-0.8},{"t":45.5,"v":0.8},{"t":46.5,"v":-0.5},{"t":47.5,"v":1},{"t":48.5,"v":-0.7},{"t":49.5,"v":1.2},{"t":50.5,"v":-0.8},{"t":51.5,"v":2},{"t":52.5,"v":-0.9},{"t":53.5,"v":1},{"t":54.5,"v":2},{"t":55.5,"v":-1.2},{"t":56.5,"v":1.9},{"t":57.5,"v":-1},{"t":58.5,"v":1.3},{"t":59.5,"v":-0.9},{"t":60.5,"v":1.1},{"t":61.5,"v":-0.7},{"t":62.5,"v":0.9},{"t":63.5,"v":2},{"t":64.5,"v":-1.2},{"t":65.5,"v":-0.8},{"t":66.5,"v":0.2},{"t":67.5,"v":-0.1},{"t":68.5,"v":0.2},{"t":69.5,"v":-0.1},{"t":70.5,"v":0.2},{"t":71.5,"v":-0.1},{"t":72.5,"v":0.2},{"t":73.5,"v":-0.2},{"t":74.5,"v":0.1},{"t":75.5,"v":-0.1},{"t":76.5,"v":0.2},{"t":77.5,"v":-0.1},{"t":78.5,"v":0.2},{"t":79.5,"v":-0.2},{"t":80.5,"v":0.1},{"t":81.5,"v":-0.1},{"t":82.5,"v":0.2},{"t":83.5,"v":-0.1},{"t":84.5,"v":0.2},{"t":85.5,"v":-0.1},{"t":86.5,"v":0.2},{"t":87.5,"v":-0.1},{"t":88.5,"v":0.2},{"t":89.5,"v":-0.1},{"t":90.5,"v":0.2},{"t":91.5,"v":-0.1},{"t":92.5,"v":0.2},{"t":93.5,"v":-0.1},{"t":94.5,"v":0.2},{"t":95.5,"v":-0.1},{"t":96.5,"v":0.2},{"t":97.5,"v":-0.1},{"t":98.5,"v":0.2},{"t":99.5,"v":-0.1}],
"a_zc":[{"s":1,"x":4,"y":0},{"s":1,"x":8,"y":0.001},{"s":1,"x":10,"y":0.002},{"s":1,"x":12,"y":0.007},{"s":1,"x":14,"y":0.014},{"s":1,"x":16,"y":0.02},{"s":1,"x":18,"y":0.026},{"s":1,"x":20,"y":0.031},{"s":1,"x":22,"y":0.036},{"s":1,"x":24,"y":0.042},{"s":1,"x":26,"y":0.048},{"s":1,"x":28,"y":0.05},{"s":1,"x":30,"y":0.05},{"s":1,"x":32,"y":0.047},{"s":1,"x":34,"y":0.043},{"s":1,"x":36,"y":0.038},{"s":1,"x":38,"y":0.031},{"s":1,"x":40,"y":0.025},{"s":1,"x":42,"y":0.019},{"s":1,"x":44,"y":0.013},{"s":1,"x":46,"y":0.009},{"s":1,"x":48,"y":0.006},{"s":1,"x":50,"y":0.003},{"s":1,"x":54,"y":0.001},{"s":1,"x":58,"y":0},
{"s":2,"x":13,"y":0},{"s":2,"x":15,"y":0.004},{"s":2,"x":17.3,"y":0.031},{"s":2,"x":20.3,"y":0.077},{"s":2,"x":21.9,"y":0.099},{"s":2,"x":23.5,"y":0.116},{"s":2,"x":24.4,"y":0.112},{"s":2,"x":26.4,"y":0.081},{"s":2,"x":28.5,"y":0.054},{"s":2,"x":30.5,"y":0.032},{"s":2,"x":32.6,"y":0.016},{"s":2,"x":34.6,"y":0.007},{"s":2,"x":37.7,"y":0.002},{"s":2,"x":39,"y":0},
{"s":3,"x":10,"y":0},{"s":3,"x":12,"y":0.001},{"s":3,"x":14,"y":0.005},{"s":3,"x":16,"y":0.024},{"s":3,"x":18,"y":0.054},{"s":3,"x":19.5,"y":0.09},{"s":3,"x":20.7,"y":0.117},{"s":3,"x":22,"y":0.114},{"s":3,"x":24,"y":0.099},{"s":3,"x":26,"y":0.068},{"s":3,"x":28,"y":0.036},{"s":3,"x":30,"y":0.016},{"s":3,"x":32,"y":0.007},{"s":3,"x":34,"y":0.003},{"s":3,"x":38,"y":0}],
"a_ssc":[{"s":1,"x":26,"y":0},{"s":1,"x":34,"y":0.002},{"s":1,"x":38,"y":0.005},{"s":1,"x":42,"y":0.015},{"s":1,"x":46,"y":0.027},{"s":1,"x":50,"y":0.042},{"s":1,"x":53,"y":0.055},{"s":1,"x":55.5,"y":0.06},{"s":1,"x":58,"y":0.051},{"s":1,"x":60,"y":0.036},{"s":1,"x":62,"y":0.021},{"s":1,"x":64,"y":0.009},{"s":1,"x":66,"y":0.004},{"s":1,"x":70,"y":0.001},{"s":1,"x":76,"y":0},
{"s":2,"x":24,"y":0},{"s":2,"x":28,"y":0.003},{"s":2,"x":30,"y":0.01},{"s":2,"x":32,"y":0.021},{"s":2,"x":34,"y":0.051},{"s":2,"x":36,"y":0.09},{"s":2,"x":37,"y":0.097},{"s":2,"x":38,"y":0.093},{"s":2,"x":40,"y":0.072},{"s":2,"x":42,"y":0.048},{"s":2,"x":44,"y":0.024},{"s":2,"x":46,"y":0.009},{"s":2,"x":48,"y":0.003},{"s":2,"x":52,"y":0},
{"s":3,"x":22,"y":0},{"s":3,"x":26,"y":0.003},{"s":3,"x":28,"y":0.01},{"s":3,"x":30,"y":0.027},{"s":3,"x":32,"y":0.057},{"s":3,"x":34,"y":0.081},{"s":3,"x":35.5,"y":0.091},{"s":3,"x":37,"y":0.086},{"s":3,"x":38,"y":0.08},{"s":3,"x":40,"y":0.054},{"s":3,"x":42,"y":0.03},{"s":3,"x":44,"y":0.012},{"s":3,"x":46,"y":0.005},{"s":3,"x":50,"y":0.001},{"s":3,"x":58,"y":0}],
"a_mav":[{"s":1,"x":2,"y":0},{"s":1,"x":5,"y":0.05},{"s":1,"x":8,"y":0.15},{"s":1,"x":11,"y":0.11},{"s":1,"x":15,"y":0.055},{"s":1,"x":20,"y":0.02},{"s":1,"x":25,"y":0.004},{"s":1,"x":30,"y":0.001},{"s":1,"x":40,"y":0},{"s":1,"x":420,"y":0},
{"s":2,"x":60,"y":0},{"s":2,"x":80,"y":0.001},{"s":2,"x":100,"y":0.007},{"s":2,"x":120,"y":0.0125},{"s":2,"x":130,"y":0.013},{"s":2,"x":140,"y":0.012},{"s":2,"x":160,"y":0.008},{"s":2,"x":180,"y":0.005},{"s":2,"x":200,"y":0.003},{"s":2,"x":240,"y":0.0012},{"s":2,"x":280,"y":0.0004},{"s":2,"x":320,"y":0},
{"s":3,"x":18,"y":0},{"s":3,"x":25,"y":0.004},{"s":3,"x":32,"y":0.009},{"s":3,"x":37,"y":0.01},{"s":3,"x":42,"y":0.008},{"s":3,"x":48,"y":0.009},{"s":3,"x":57,"y":0.014},{"s":3,"x":70,"y":0.019},{"s":3,"x":80,"y":0.017},{"s":3,"x":90,"y":0.011},{"s":3,"x":100,"y":0.006},{"s":3,"x":110,"y":0.003},{"s":3,"x":125,"y":0.0012},{"s":3,"x":150,"y":0.0004},{"s":3,"x":190,"y":0}],
"a_wl":[{"s":1,"x":3,"y":0},{"s":1,"x":4,"y":0.1},{"s":1,"x":5,"y":0.3},{"s":1,"x":6,"y":0.25},{"s":1,"x":7,"y":0.12},{"s":1,"x":8,"y":0.05},{"s":1,"x":10,"y":0.01},{"s":1,"x":12,"y":0.002},{"s":1,"x":16,"y":0},{"s":1,"x":150,"y":0},
{"s":2,"x":45,"y":0},{"s":2,"x":60,"y":0.005},{"s":2,"x":75,"y":0.012},{"s":2,"x":90,"y":0.018},{"s":2,"x":105,"y":0.016},{"s":2,"x":120,"y":0.012},{"s":2,"x":140,"y":0.007},{"s":2,"x":160,"y":0.004},{"s":2,"x":180,"y":0.002},{"s":2,"x":200,"y":0.0008},{"s":2,"x":235,"y":0},
{"s":3,"x":12,"y":0},{"s":3,"x":18,"y":0.008},{"s":3,"x":24,"y":0.016},{"s":3,"x":30,"y":0.014},{"s":3,"x":36,"y":0.022},{"s":3,"x":42,"y":0.03},{"s":3,"x":50,"y":0.027},{"s":3,"x":60,"y":0.02},{"s":3,"x":70,"y":0.012},{"s":3,"x":80,"y":0.006},{"s":3,"x":90,"y":0.003},{"s":3,"x":110,"y":0.001},{"s":3,"x":150,"y":0}],
"a_lmav":[{"s":1,"x":1.5,"y":0},{"s":1,"x":1.7,"y":0.2},{"s":1,"x":1.85,"y":0.9},{"s":1,"x":2,"y":1.27},{"s":1,"x":2.2,"y":0.95},{"s":1,"x":2.35,"y":0.62},{"s":1,"x":2.45,"y":0.57},{"s":1,"x":2.65,"y":0.75},{"s":1,"x":2.8,"y":0.55},{"s":1,"x":3,"y":0.2},{"s":1,"x":3.2,"y":0.06},{"s":1,"x":3.5,"y":0.02},{"s":1,"x":4,"y":0.01},{"s":1,"x":5,"y":0.005},{"s":1,"x":6.6,"y":0},
{"s":2,"x":4.1,"y":0},{"s":2,"x":4.4,"y":0.3},{"s":2,"x":4.6,"y":1},{"s":2,"x":4.8,"y":1.6},{"s":2,"x":4.9,"y":1.72},{"s":2,"x":5.05,"y":1.6},{"s":2,"x":5.3,"y":0.9},{"s":2,"x":5.5,"y":0.35},{"s":2,"x":5.7,"y":0.05},{"s":2,"x":5.8,"y":0},
{"s":3,"x":2.9,"y":0},{"s":3,"x":3.2,"y":0.05},{"s":3,"x":3.45,"y":0.3},{"s":3,"x":3.6,"y":0.28},{"s":3,"x":3.85,"y":0.36},{"s":3,"x":4,"y":0.7},{"s":3,"x":4.2,"y":1.2},{"s":3,"x":4.35,"y":1.4},{"s":3,"x":4.5,"y":1.2},{"s":3,"x":4.7,"y":0.6},{"s":3,"x":4.9,"y":0.2},{"s":3,"x":5.1,"y":0.04},{"s":3,"x":5.3,"y":0}],
"a_lwl":[{"s":1,"x":1.7,"y":0},{"s":1,"x":1.85,"y":0.8},{"s":1,"x":1.95,"y":1.9},{"s":1,"x":2.02,"y":2.38},{"s":1,"x":2.1,"y":2.1},{"s":1,"x":2.2,"y":1.45},{"s":1,"x":2.3,"y":1.25},{"s":1,"x":2.4,"y":0.8},{"s":1,"x":2.55,"y":0.3},{"s":1,"x":2.7,"y":0.1},{"s":1,"x":3,"y":0.03},{"s":1,"x":4,"y":0.02},{"s":1,"x":5.5,"y":0},
{"s":2,"x":3.8,"y":0},{"s":2,"x":4.1,"y":0.4},{"s":2,"x":4.3,"y":1},{"s":2,"x":4.5,"y":1.5},{"s":2,"x":4.6,"y":1.63},{"s":2,"x":4.75,"y":1.5},{"s":2,"x":4.95,"y":0.9},{"s":2,"x":5.15,"y":0.3},{"s":2,"x":5.35,"y":0.05},{"s":2,"x":5.5,"y":0},
{"s":3,"x":2.5,"y":0},{"s":3,"x":2.9,"y":0.1},{"s":3,"x":3.15,"y":0.4},{"s":3,"x":3.3,"y":0.35},{"s":3,"x":3.45,"y":0.5},{"s":3,"x":3.65,"y":1},{"s":3,"x":3.8,"y":1.15},{"s":3,"x":4,"y":1.15},{"s":3,"x":4.1,"y":1.05},{"s":3,"x":4.3,"y":0.6},{"s":3,"x":4.5,"y":0.25},{"s":3,"x":4.7,"y":0.06},{"s":3,"x":4.9,"y":0}],
"b_zc":[{"s":1,"x":8,"y":0},{"s":1,"x":10,"y":0.003},{"s":1,"x":12,"y":0.01},{"s":1,"x":14,"y":0.022},{"s":1,"x":16,"y":0.04},{"s":1,"x":18,"y":0.06},{"s":1,"x":20,"y":0.072},{"s":1,"x":21,"y":0.074},{"s":1,"x":22,"y":0.072},{"s":1,"x":24,"y":0.062},{"s":1,"x":26,"y":0.048},{"s":1,"x":28,"y":0.037},{"s":1,"x":30,"y":0.027},{"s":1,"x":32,"y":0.018},{"s":1,"x":34,"y":0.011},{"s":1,"x":36,"y":0.006},{"s":1,"x":38,"y":0.003},{"s":1,"x":42,"y":0.001},{"s":1,"x":44,"y":0},
{"s":2,"x":3,"y":0},{"s":2,"x":8,"y":0.001},{"s":2,"x":10,"y":0.004},{"s":2,"x":12,"y":0.012},{"s":2,"x":14,"y":0.025},{"s":2,"x":16,"y":0.043},{"s":2,"x":18,"y":0.056},{"s":2,"x":19,"y":0.058},{"s":2,"x":20,"y":0.056},{"s":2,"x":22,"y":0.05},{"s":2,"x":24,"y":0.046},{"s":2,"x":26,"y":0.043},{"s":2,"x":28,"y":0.04},{"s":2,"x":30,"y":0.038},{"s":2,"x":32,"y":0.032},{"s":2,"x":34,"y":0.024},{"s":2,"x":36,"y":0.016},{"s":2,"x":38,"y":0.01},{"s":2,"x":40,"y":0.006},{"s":2,"x":44,"y":0.002},{"s":2,"x":50,"y":0.0005},{"s":2,"x":58,"y":0},
{"s":3,"x":9,"y":0},{"s":3,"x":11,"y":0.002},{"s":3,"x":13,"y":0.01},{"s":3,"x":15,"y":0.03},{"s":3,"x":17,"y":0.058},{"s":3,"x":19,"y":0.085},{"s":3,"x":21,"y":0.099},{"s":3,"x":21.5,"y":0.1},{"s":3,"x":23,"y":0.095},{"s":3,"x":25,"y":0.078},{"s":3,"x":27,"y":0.053},{"s":3,"x":29,"y":0.03},{"s":3,"x":31,"y":0.014},{"s":3,"x":33,"y":0.006},{"s":3,"x":35,"y":0.002},{"s":3,"x":38,"y":0}],
"b_ssc":[{"s":1,"x":20,"y":0},{"s":1,"x":24,"y":0.003},{"s":1,"x":28,"y":0.012},{"s":1,"x":30,"y":0.022},{"s":1,"x":32,"y":0.035},{"s":1,"x":34,"y":0.045},{"s":1,"x":36,"y":0.051},{"s":1,"x":38,"y":0.053},{"s":1,"x":40,"y":0.053},{"s":1,"x":42,"y":0.048},{"s":1,"x":44,"y":0.04},{"s":1,"x":46,"y":0.032},{"s":1,"x":48,"y":0.024},{"s":1,"x":50,"y":0.017},{"s":1,"x":52,"y":0.01},{"s":1,"x":54,"y":0.005},{"s":1,"x":56,"y":0.003},{"s":1,"x":60,"y":0.001},{"s":1,"x":70,"y":0},
{"s":2,"x":18,"y":0},{"s":2,"x":22,"y":0.002},{"s":2,"x":26,"y":0.008},{"s":2,"x":28,"y":0.015},{"s":2,"x":30,"y":0.028},{"s":2,"x":32,"y":0.035},{"s":2,"x":34,"y":0.037},{"s":2,"x":36,"y":0.038},{"s":2,"x":38,"y":0.038},{"s":2,"x":40,"y":0.039},{"s":2,"x":42,"y":0.043},{"s":2,"x":44,"y":0.047},{"s":2,"x":45,"y":0.049},{"s":2,"x":46,"y":0.048},{"s":2,"x":48,"y":0.04},{"s":2,"x":50,"y":0.027},{"s":2,"x":52,"y":0.016},{"s":2,"x":54,"y":0.008},{"s":2,"x":56,"y":0.004},{"s":2,"x":60,"y":0.001},{"s":2,"x":68,"y":0},
{"s":3,"x":20,"y":0},{"s":3,"x":24,"y":0.004},{"s":3,"x":28,"y":0.015},{"s":3,"x":30,"y":0.03},{"s":3,"x":32,"y":0.055},{"s":3,"x":34,"y":0.065},{"s":3,"x":36,"y":0.069},{"s":3,"x":37,"y":0.072},{"s":3,"x":38,"y":0.07},{"s":3,"x":40,"y":0.058},{"s":3,"x":42,"y":0.042},{"s":3,"x":44,"y":0.026},{"s":3,"x":46,"y":0.013},{"s":3,"x":48,"y":0.006},{"s":3,"x":50,"y":0.002},{"s":3,"x":54,"y":0.0005},{"s":3,"x":60,"y":0}],
"b_mav":[{"s":1,"x":10,"y":0},{"s":1,"x":15,"y":0.001},{"s":1,"x":20,"y":0.003},{"s":1,"x":25,"y":0.006},{"s":1,"x":32,"y":0.0092},{"s":1,"x":40,"y":0.008},{"s":1,"x":50,"y":0.006},{"s":1,"x":60,"y":0.005},{"s":1,"x":80,"y":0.0042},{"s":1,"x":100,"y":0.0039},{"s":1,"x":150,"y":0.0037},{"s":1,"x":180,"y":0.0035},{"s":1,"x":200,"y":0.003},{"s":1,"x":250,"y":0.0018},{"s":1,"x":300,"y":0.0008},{"s":1,"x":350,"y":0.0003},{"s":1,"x":400,"y":0.0001},{"s":1,"x":500,"y":0},
{"s":2,"x":20,"y":0},{"s":2,"x":28,"y":0.004},{"s":2,"x":35,"y":0.012},{"s":2,"x":42,"y":0.0157},{"s":2,"x":50,"y":0.013},{"s":2,"x":60,"y":0.009},{"s":2,"x":70,"y":0.0065},{"s":2,"x":85,"y":0.005},{"s":2,"x":100,"y":0.004},{"s":2,"x":150,"y":0.003},{"s":2,"x":200,"y":0.0014},{"s":2,"x":250,"y":0.0005},{"s":2,"x":300,"y":0.0001},{"s":2,"x":350,"y":0},{"s":2,"x":500,"y":0},
{"s":3,"x":42,"y":0},{"s":3,"x":60,"y":0.001},{"s":3,"x":80,"y":0.004},{"s":3,"x":95,"y":0.0058},{"s":3,"x":110,"y":0.0064},{"s":3,"x":130,"y":0.0055},{"s":3,"x":150,"y":0.0042},{"s":3,"x":180,"y":0.0034},{"s":3,"x":220,"y":0.0032},{"s":3,"x":260,"y":0.0032},{"s":3,"x":290,"y":0.0029},{"s":3,"x":320,"y":0.002},{"s":3,"x":350,"y":0.001},{"s":3,"x":400,"y":0.0003},{"s":3,"x":450,"y":0},{"s":3,"x":500,"y":0}],
"b_wl":[{"s":1,"x":5,"y":0},{"s":1,"x":10,"y":0.002},{"s":1,"x":15,"y":0.007},{"s":1,"x":20,"y":0.011},{"s":1,"x":27,"y":0.0125},{"s":1,"x":35,"y":0.011},{"s":1,"x":50,"y":0.008},{"s":1,"x":70,"y":0.006},{"s":1,"x":90,"y":0.0055},{"s":1,"x":120,"y":0.005},{"s":1,"x":140,"y":0.0038},{"s":1,"x":170,"y":0.002},{"s":1,"x":200,"y":0.0008},{"s":1,"x":240,"y":0.0002},{"s":1,"x":300,"y":0},
{"s":2,"x":12,"y":0},{"s":2,"x":20,"y":0.004},{"s":2,"x":28,"y":0.012},{"s":2,"x":35,"y":0.019},{"s":2,"x":40,"y":0.0215},{"s":2,"x":48,"y":0.019},{"s":2,"x":60,"y":0.012},{"s":2,"x":75,"y":0.007},{"s":2,"x":90,"y":0.005},{"s":2,"x":110,"y":0.0035},{"s":2,"x":140,"y":0.0018},{"s":2,"x":170,"y":0.0008},{"s":2,"x":200,"y":0.0002},{"s":2,"x":240,"y":0},{"s":2,"x":300,"y":0},
{"s":3,"x":28,"y":0},{"s":3,"x":45,"y":0.002},{"s":3,"x":60,"y":0.006},{"s":3,"x":72,"y":0.0095},{"s":3,"x":80,"y":0.0104},{"s":3,"x":95,"y":0.0085},{"s":3,"x":110,"y":0.006},{"s":3,"x":130,"y":0.0048},{"s":3,"x":160,"y":0.0048},{"s":3,"x":180,"y":0.004},{"s":3,"x":200,"y":0.0025},{"s":3,"x":230,"y":0.001},{"s":3,"x":260,"y":0.0003},{"s":3,"x":300,"y":0}],
"b_lmav":[{"s":1,"x":2.4,"y":0},{"s":1,"x":2.8,"y":0.03},{"s":1,"x":3.1,"y":0.15},{"s":1,"x":3.4,"y":0.28},{"s":1,"x":3.6,"y":0.33},{"s":1,"x":3.8,"y":0.31},{"s":1,"x":4,"y":0.3},{"s":1,"x":4.3,"y":0.34},{"s":1,"x":4.6,"y":0.4},{"s":1,"x":4.9,"y":0.5},{"s":1,"x":5.15,"y":0.58},{"s":1,"x":5.3,"y":0.5},{"s":1,"x":5.5,"y":0.3},{"s":1,"x":5.8,"y":0.1},{"s":1,"x":6.1,"y":0.02},{"s":1,"x":6.4,"y":0},
{"s":2,"x":2.5,"y":0},{"s":2,"x":3,"y":0.05},{"s":2,"x":3.3,"y":0.2},{"s":2,"x":3.6,"y":0.5},{"s":2,"x":3.85,"y":0.7},{"s":2,"x":4.1,"y":0.6},{"s":2,"x":4.3,"y":0.45},{"s":2,"x":4.5,"y":0.38},{"s":2,"x":4.7,"y":0.4},{"s":2,"x":4.95,"y":0.41},{"s":2,"x":5.2,"y":0.3},{"s":2,"x":5.45,"y":0.12},{"s":2,"x":5.7,"y":0.03},{"s":2,"x":6,"y":0},
{"s":3,"x":3.7,"y":0},{"s":3,"x":4.1,"y":0.1},{"s":3,"x":4.4,"y":0.45},{"s":3,"x":4.65,"y":0.72},{"s":3,"x":4.8,"y":0.74},{"s":3,"x":5,"y":0.6},{"s":3,"x":5.15,"y":0.55},{"s":3,"x":5.35,"y":0.68},{"s":3,"x":5.55,"y":0.77},{"s":3,"x":5.75,"y":0.55},{"s":3,"x":5.95,"y":0.22},{"s":3,"x":6.2,"y":0.05},{"s":3,"x":6.7,"y":0}],
"b_lwl":[{"s":1,"x":2.1,"y":0},{"s":1,"x":2.6,"y":0.05},{"s":1,"x":3,"y":0.2},{"s":1,"x":3.3,"y":0.38},{"s":1,"x":3.5,"y":0.43},{"s":1,"x":3.8,"y":0.44},{"s":1,"x":4.2,"y":0.44},{"s":1,"x":4.5,"y":0.5},{"s":1,"x":4.75,"y":0.56},{"s":1,"x":5,"y":0.45},{"s":1,"x":5.25,"y":0.2},{"s":1,"x":5.5,"y":0.07},{"s":1,"x":5.8,"y":0.01},{"s":1,"x":6.3,"y":0},
{"s":2,"x":2.5,"y":0},{"s":2,"x":2.9,"y":0.07},{"s":2,"x":3.2,"y":0.3},{"s":2,"x":3.5,"y":0.65},{"s":2,"x":3.8,"y":0.9},{"s":2,"x":4,"y":0.8},{"s":2,"x":4.2,"y":0.58},{"s":2,"x":4.4,"y":0.48},{"s":2,"x":4.6,"y":0.38},{"s":2,"x":4.8,"y":0.25},{"s":2,"x":5,"y":0.13},{"s":2,"x":5.3,"y":0.04},{"s":2,"x":5.8,"y":0},
{"s":3,"x":3.4,"y":0},{"s":3,"x":3.8,"y":0.1},{"s":3,"x":4.1,"y":0.4},{"s":3,"x":4.3,"y":0.75},{"s":3,"x":4.45,"y":0.87},{"s":3,"x":4.6,"y":0.75},{"s":3,"x":4.75,"y":0.65},{"s":3,"x":4.9,"y":0.7},{"s":3,"x":5.1,"y":0.8},{"s":3,"x":5.3,"y":0.6},{"s":3,"x":5.5,"y":0.25},{"s":3,"x":5.7,"y":0.07},{"s":3,"x":6,"y":0}]
},
"spacing":0,
"resolve":{"scale":{"x":"independent","y":"independent"}},
"vconcat":[
{"bounds":"flush","spacing":79,"resolve":{"scale":{"x":"independent","y":"independent"}},
 "hconcat":[
  {"width":404,"height":470,"resolve":{"scale":{"y":"independent"}},
   "layer":[
    {"layer":[
      {"data":{"values":[{}]},"mark":{"type":"rect","filled":false,"color":"#000","strokeWidth":2,"cornerRadius":16},"encoding":{"x":{"datum":-23.515,"type":"quantitative","scale":{"domain":[0,100],"nice":false},"axis":null},"x2":{"datum":275.99},"y":{"datum":-9.2,"type":"quantitative","scale":{"domain":[0,47],"reverse":true,"nice":false,"zero":false},"axis":null},"y2":{"datum":48.3}}},
      {"data":{"values":[{}]},"mark":{"type":"rule","strokeDash":[8,10],"strokeWidth":1.2,"color":"#222"},"encoding":{"x":{"datum":103.84,"type":"quantitative","axis":null},"y":{"datum":-9.2,"type":"quantitative","axis":null},"y2":{"datum":52.6}}},
      {"data":{"values":[{}]},"mark":{"type":"text","text":"(a)","fontSize":24},"encoding":{"x":{"datum":-6.06,"type":"quantitative","axis":null},"y":{"datum":-5.3,"type":"quantitative","axis":null}}},
      {"data":{"values":[{}]},"mark":{"type":"text","text":"Signal","fontSize":24},"encoding":{"x":{"datum":50.74,"type":"quantitative","axis":null},"y":{"datum":-5.3,"type":"quantitative","axis":null}}},
      {"data":{"values":[{}]},"mark":{"type":"text","text":"(b)","fontSize":24},"encoding":{"x":{"datum":114.36,"type":"quantitative","axis":null},"y":{"datum":-5.3,"type":"quantitative","axis":null}}},
      {"data":{"values":[{}]},"mark":{"type":"text","text":"Features","fontSize":24},"encoding":{"x":{"datum":187.87,"type":"quantitative","axis":null},"y":{"datum":-5.3,"type":"quantitative","axis":null}}},
      {"data":{"values":[{}]},"mark":{"type":"text","text":"Static Section","fontSize":30,"align":"left"},"encoding":{"x":{"datum":-15.1,"type":"quantitative","axis":null},"y":{"datum":44.3,"type":"quantitative","axis":null}}},
      {"data":{"name":"seg"},"mark":{"type":"rule","strokeWidth":1.3,"color":"#000"},"encoding":{"x":{"field":"s","type":"quantitative","axis":null},"x2":{"field":"e"},"y":{"datum":38.07,"type":"quantitative","axis":null}}},
      {"data":{"name":"seg"},"mark":{"type":"rule","strokeWidth":1.3,"color":"#000"},"encoding":{"x":{"field":"s","type":"quantitative","axis":null},"y":{"datum":36.17,"type":"quantitative","axis":null},"y2":{"datum":39.57}}},
      {"data":{"name":"seg"},"mark":{"type":"rule","strokeWidth":1.3,"color":"#000"},"encoding":{"x":{"field":"e","type":"quantitative","axis":null},"y":{"datum":36.17,"type":"quantitative","axis":null},"y2":{"datum":39.57}}},
      {"data":{"name":"seg"},"mark":{"type":"point","shape":"M0,0L1,-0.35L1,0.35Z","size":200,"filled":true,"color":"#000","opacity":1},"encoding":{"x":{"field":"s","type":"quantitative","axis":null},"y":{"datum":38.07,"type":"quantitative","axis":null}}},
      {"data":{"name":"seg"},"mark":{"type":"point","shape":"M0,0L-1,-0.35L-1,0.35Z","size":200,"filled":true,"color":"#000","opacity":1},"encoding":{"x":{"field":"e","type":"quantitative","axis":null},"y":{"datum":38.07,"type":"quantitative","axis":null}}},
      {"data":{"name":"seg"},"mark":{"type":"text","fontSize":15,"baseline":"middle","color":"#000"},"encoding":{"x":{"field":"m","type":"quantitative","axis":null},"y":{"datum":36.83,"type":"quantitative","axis":null},"text":{"field":"lab"}}},
      {"data":{"values":[{}]},"mark":{"type":"rule","strokeWidth":1.3,"color":"#000"},"encoding":{"x":{"datum":83.2,"type":"quantitative","axis":null},"x2":{"datum":99.9},"y":{"datum":45.1,"type":"quantitative","axis":null}}},
      {"data":{"values":[{}]},"mark":{"type":"rule","strokeWidth":1.3,"color":"#000"},"encoding":{"x":{"datum":83.2,"type":"quantitative","axis":null},"y":{"datum":44.5,"type":"quantitative","axis":null},"y2":{"datum":45.8}}},
      {"data":{"values":[{}]},"mark":{"type":"rule","strokeWidth":1.3,"color":"#000"},"encoding":{"x":{"datum":99.9,"type":"quantitative","axis":null},"y":{"datum":44.5,"type":"quantitative","axis":null},"y2":{"datum":45.8}}},
      {"data":{"values":[{}]},"mark":{"type":"text","text":"10 sec","fontSize":19,"baseline":"middle","color":"#000"},"encoding":{"x":{"datum":91.7,"type":"quantitative","axis":null},"y":{"datum":43.83,"type":"quantitative","axis":null}}}
    ]},
    {"layer":[{"data":{"name":"sa1"},"mark":{"type":"rule","color":"#3A64C6","strokeWidth":1.6},"encoding":{"x":{"field":"t","type":"quantitative","axis":null},"y":{"field":"v","type":"quantitative","scale":{"domain":[-45.5,1.5],"nice":false,"zero":false},"axis":null},"y2":{"datum":0}}},{"data":{"name":"sa1"},"mark":{"type":"line","color":"#3A64C6","strokeWidth":1},"encoding":{"x":{"field":"t","type":"quantitative","axis":null},"y":{"field":"v","type":"quantitative","axis":null}}},{"data":{"values":[{}]},"mark":{"type":"text","text":"ch1","fontSize":23,"align":"right"},"encoding":{"x":{"datum":-3.96,"type":"quantitative","axis":null},"y":{"datum":0,"type":"quantitative","axis":null}}}]},
    {"layer":[{"data":{"name":"sa2"},"mark":{"type":"rule","color":"#D24E1E","strokeWidth":1.6},"encoding":{"x":{"field":"t","type":"quantitative","axis":null},"y":{"field":"v","type":"quantitative","scale":{"domain":[-39.44,7.56],"nice":false,"zero":false},"axis":null},"y2":{"datum":0}}},{"data":{"name":"sa2"},"mark":{"type":"line","color":"#D24E1E","strokeWidth":1},"encoding":{"x":{"field":"t","type":"quantitative","axis":null},"y":{"field":"v","type":"quantitative","axis":null}}},{"data":{"values":[{}]},"mark":{"type":"text","text":"ch2","fontSize":23,"align":"right"},"encoding":{"x":{"datum":-3.96,"type":"quantitative","axis":null},"y":{"datum":0,"type":"quantitative","axis":null}}}]},
    {"layer":[{"data":{"name":"sa3"},"mark":{"type":"rule","color":"#E6B02C","strokeWidth":1.6},"encoding":{"x":{"field":"t","type":"quantitative","axis":null},"y":{"field":"v","type":"quantitative","scale":{"domain":[-33.38,13.62],"nice":false,"zero":false},"axis":null},"y2":{"datum":0}}},{"data":{"name":"sa3"},"mark":{"type":"line","color":"#E6B02C","strokeWidth":1},"encoding":{"x":{"field":"t","type":"quantitative","axis":null},"y":{"field":"v","type":"quantitative","axis":null}}},{"data":{"values":[{}]},"mark":{"type":"text","text":"ch3","fontSize":23,"align":"right"},"encoding":{"x":{"datum":-3.96,"type":"quantitative","axis":null},"y":{"datum":0,"type":"quantitative","axis":null}}}]},
    {"layer":[{"data":{"name":"sa4"},"mark":{"type":"rule","color":"#671D83","strokeWidth":1.6},"encoding":{"x":{"field":"t","type":"quantitative","axis":null},"y":{"field":"v","type":"quantitative","scale":{"domain":[-27.32,19.68],"nice":false,"zero":false},"axis":null},"y2":{"datum":0}}},{"data":{"name":"sa4"},"mark":{"type":"line","color":"#671D83","strokeWidth":1},"encoding":{"x":{"field":"t","type":"quantitative","axis":null},"y":{"field":"v","type":"quantitative","axis":null}}},{"data":{"values":[{}]},"mark":{"type":"text","text":"ch4","fontSize":23,"align":"right"},"encoding":{"x":{"datum":-3.96,"type":"quantitative","axis":null},"y":{"datum":0,"type":"quantitative","axis":null}}}]},
    {"layer":[{"data":{"name":"sa5"},"mark":{"type":"rule","color":"#76AA2F","strokeWidth":1.6},"encoding":{"x":{"field":"t","type":"quantitative","axis":null},"y":{"field":"v","type":"quantitative","scale":{"domain":[-21.26,25.74],"nice":false,"zero":false},"axis":null},"y2":{"datum":0}}},{"data":{"name":"sa5"},"mark":{"type":"line","color":"#76AA2F","strokeWidth":1},"encoding":{"x":{"field":"t","type":"quantitative","axis":null},"y":{"field":"v","type":"quantitative","axis":null}}},{"data":{"values":[{}]},"mark":{"type":"text","text":"ch5","fontSize":23,"align":"right"},"encoding":{"x":{"datum":-3.96,"type":"quantitative","axis":null},"y":{"datum":0,"type":"quantitative","axis":null}}}]},
    {"layer":[{"data":{"name":"sa6"},"mark":{"type":"rule","color":"#72B6EE","strokeWidth":1.6},"encoding":{"x":{"field":"t","type":"quantitative","axis":null},"y":{"field":"v","type":"quantitative","scale":{"domain":[-15.2,31.8],"nice":false,"zero":false},"axis":null},"y2":{"datum":0}}},{"data":{"name":"sa6"},"mark":{"type":"line","color":"#72B6EE","strokeWidth":1},"encoding":{"x":{"field":"t","type":"quantitative","axis":null},"y":{"field":"v","type":"quantitative","axis":null}}},{"data":{"values":[{}]},"mark":{"type":"text","text":"ch6","fontSize":23,"align":"right"},"encoding":{"x":{"datum":-3.96,"type":"quantitative","axis":null},"y":{"datum":0,"type":"quantitative","axis":null}}}]}
   ]},
  {"columns":2,"bounds":"flush","spacing":{"row":44,"column":82},"resolve":{"scale":{"x":"independent","y":"independent","color":"independent"},"legend":{"color":"independent"}},
   "concat":[
    {"width":262,"height":112,"view":{"stroke":"#262626"},"layer":[
      {"data":{"name":"a_zc"},"mark":{"type":"line","strokeWidth":2.5,"interpolate":"monotone"},"encoding":{"x":{"field":"x","type":"quantitative","scale":{"domain":[0,60],"nice":false},"axis":{"values":[0,20,40,60],"labelExpr":"format(datum.value,'~g')","title":null}},"y":{"field":"y","type":"quantitative","scale":{"domain":[0,0.15],"nice":false},"axis":{"values":[0,0.05,0.1,0.15],"labelExpr":"format(datum.value,'~g')","title":"p.d.f."}},"color":{"field":"s","type":"nominal","scale":{"domain":[1,2,3],"range":["#2F5EC4","#CF4A1B","#E8B424"]},"legend":{"title":"\u200b\u2003\u2003\u2002skew\u2003kurt","labelExpr":"datum.value==1?'0.01\u2003-0.45':datum.value==2?'0.18\u2003-0.04':'0.20\u2003\u20080.12'"}}}},
      {"data":{"values":[{}]},"mark":{"type":"text","text":"ZC","align":"right","baseline":"middle","fontSize":15},"encoding":{"x":{"datum":54.5,"type":"quantitative"},"y":{"datum":0.0268,"type":"quantitative"}}}]},
    {"width":262,"height":112,"view":{"stroke":"#262626"},"layer":[
      {"data":{"name":"a_ssc"},"mark":{"type":"line","strokeWidth":2.5,"interpolate":"monotone"},"encoding":{"x":{"field":"x","type":"quantitative","scale":{"domain":[0,120],"nice":false},"axis":{"values":[0,20,40,60,80,100,120],"labelExpr":"format(datum.value,'~g')","title":null}},"y":{"field":"y","type":"quantitative","scale":{"domain":[0,0.1],"nice":false},"axis":{"values":[0,0.05,0.1],"labelExpr":"format(datum.value,'~g')","title":"p.d.f."}},"color":{"field":"s","type":"nominal","scale":{"domain":[1,2,3],"range":["#2F5EC4","#CF4A1B","#E8B424"]},"legend":{"title":"\u200b\u2003\u2003\u2002skew\u2003kurt","labelExpr":"datum.value==1?'-0.51\u2003\u20080.17':datum.value==2?'\u20080.12\u2003-0.09':'\u20080.16\u2003\u20080.13'"}}}},
      {"data":{"values":[{}]},"mark":{"type":"text","text":"SSC","align":"right","baseline":"middle","fontSize":15},"encoding":{"x":{"datum":109,"type":"quantitative"},"y":{"datum":0.0179,"type":"quantitative"}}}]},
    {"width":262,"height":112,"view":{"stroke":"#262626"},"layer":[
      {"data":{"name":"a_mav"},"mark":{"type":"line","strokeWidth":2.5,"interpolate":"monotone"},"encoding":{"x":{"field":"x","type":"quantitative","scale":{"domain":[0,500],"nice":false},"axis":{"values":[0,100,200,300,400,500],"labelExpr":"format(datum.value,'~g')","title":null}},"y":{"field":"y","type":"quantitative","scale":{"domain":[0,0.15],"nice":false},"axis":{"values":[0,0.05,0.1,0.15],"labelExpr":"format(datum.value,'~g')","title":"p.d.f."}},"color":{"field":"s","type":"nominal","scale":{"domain":[1,2,3],"range":["#2F5EC4","#CF4A1B","#E8B424"]},"legend":{"title":"\u200b\u2003\u2003\u2002skew\u2003\u2003kurt","labelExpr":"datum.value==1?'12.24\u2003193.19':datum.value==2?'\u20070.68\u2003\u2007\u20070.42':'\u20070.12\u2003\u2007\u2009-0.07'"}}}},
      {"data":{"values":[{}]},"mark":{"type":"text","text":"MAV","align":"right","baseline":"middle","fontSize":15},"encoding":{"x":{"datum":454,"type":"quantitative"},"y":{"datum":0.0268,"type":"quantitative"}}}]},
    {"width":262,"height":112,"view":{"stroke":"#262626"},"layer":[
      {"data":{"name":"a_wl"},"mark":{"type":"line","strokeWidth":2.5,"interpolate":"monotone"},"encoding":{"x":{"field":"x","type":"quantitative","scale":{"domain":[0,300],"nice":false},"axis":{"values":[0,100,200,300],"labelExpr":"format(datum.value,'~g')","title":null}},"y":{"field":"y","type":"quantitative","scale":{"domain":[0,0.4],"nice":false},"axis":{"values":[0,0.2,0.4],"labelExpr":"format(datum.value,'~g')","title":"p.d.f."}},"color":{"field":"s","type":"nominal","scale":{"domain":[1,2,3],"range":["#2F5EC4","#CF4A1B","#E8B424"]},"legend":{"title":"\u200b\u2003\u2003\u2002skew\u2003\u2003kurt","labelExpr":"datum.value==1?'14.52\u2003258.35':datum.value==2?'\u20070.73\u2003\u2007\u20070.39':'\u20070.24\u2003\u2007\u2009-0.08'"}}}},
      {"data":{"values":[{}]},"mark":{"type":"text","text":"WL","align":"right","baseline":"middle","fontSize":15},"encoding":{"x":{"datum":272.5,"type":"quantitative"},"y":{"datum":0.0714,"type":"quantitative"}}}]},
    {"width":262,"height":112,"view":{"stroke":"#262626"},"layer":[
      {"data":{"name":"a_lmav"},"mark":{"type":"line","strokeWidth":2.5,"interpolate":"monotone"},"encoding":{"x":{"field":"x","type":"quantitative","scale":{"domain":[0,12],"nice":false},"axis":{"values":[0,2,4,6,8,10,12],"labelExpr":"format(datum.value,'~g')","title":null}},"y":{"field":"y","type":"quantitative","scale":{"domain":[0,2],"nice":false},"axis":{"values":[0,1,2],"labelExpr":"format(datum.value,'~g')","title":"p.d.f."}},"color":{"field":"s","type":"nominal","scale":{"domain":[1,2,3],"range":["#2F5EC4","#CF4A1B","#E8B424"]},"legend":{"title":"\u200b\u2003\u2003\u2002skew\u2003kurt","labelExpr":"datum.value==1?'\u20082.10\u2003\u20088.79':datum.value==2?'\u20080.09\u2003-0.20':'-0.76\u2003\u20080.26'"}}}},
      {"data":{"values":[{}]},"mark":{"type":"text","text":"log(MAV)","align":"right","baseline":"middle","fontSize":15},"encoding":{"x":{"datum":10.9,"type":"quantitative"},"y":{"datum":0.357,"type":"quantitative"}}}]},
    {"width":262,"height":112,"view":{"stroke":"#262626"},"layer":[
      {"data":{"name":"a_lwl"},"mark":{"type":"line","strokeWidth":2.5,"interpolate":"monotone"},"encoding":{"x":{"field":"x","type":"quantitative","scale":{"domain":[0,12],"nice":false},"axis":{"values":[0,2,4,6,8,10,12],"labelExpr":"format(datum.value,'~g')","title":null}},"y":{"field":"y","type":"quantitative","scale":{"domain":[0,3],"nice":false},"axis":{"values":[0,1,2,3],"labelExpr":"format(datum.value,'~g')","title":"p.d.f."}},"color":{"field":"s","type":"nominal","scale":{"domain":[1,2,3],"range":["#2F5EC4","#CF4A1B","#E8B424"]},"legend":{"title":"\u200b\u2003\u2003\u2002skew\u2003kurt","labelExpr":"datum.value==1?'\u20084.28\u200329.74':datum.value==2?'\u20080.15\u2003\u2009-0.31':'-0.63\u2003\u20070.10'"}}}},
      {"data":{"values":[{}]},"mark":{"type":"text","text":"log(WL)","align":"right","baseline":"middle","fontSize":15},"encoding":{"x":{"datum":10.9,"type":"quantitative"},"y":{"datum":0.536,"type":"quantitative"}}}]}
   ]}
 ]},
{"bounds":"flush","spacing":79,"resolve":{"scale":{"x":"independent","y":"independent"}},
 "hconcat":[
  {"width":404,"height":470,"resolve":{"scale":{"y":"independent"}},
   "layer":[
    {"layer":[
      {"data":{"values":[{}]},"mark":{"type":"rect","filled":false,"color":"#000","strokeWidth":2,"cornerRadius":16},"encoding":{"x":{"datum":-23.515,"type":"quantitative","scale":{"domain":[0,100],"nice":false},"axis":null},"x2":{"datum":275.99},"y":{"datum":-8.8,"type":"quantitative","scale":{"domain":[0,47],"reverse":true,"nice":false,"zero":false},"axis":null},"y2":{"datum":47.9}}},
      {"data":{"values":[{}]},"mark":{"type":"rule","strokeDash":[8,10],"strokeWidth":1.2,"color":"#222"},"encoding":{"x":{"datum":103.84,"type":"quantitative","axis":null},"y":{"datum":-8.8,"type":"quantitative","axis":null},"y2":{"datum":47.9}}},
      {"data":{"values":[{}]},"mark":{"type":"text","text":"(c)","fontSize":24},"encoding":{"x":{"datum":-6.06,"type":"quantitative","axis":null},"y":{"datum":-5,"type":"quantitative","axis":null}}},
      {"data":{"values":[{}]},"mark":{"type":"text","text":"Signal","fontSize":24},"encoding":{"x":{"datum":50.74,"type":"quantitative","axis":null},"y":{"datum":-5,"type":"quantitative","axis":null}}},
      {"data":{"values":[{}]},"mark":{"type":"text","text":"(d)","fontSize":24},"encoding":{"x":{"datum":114.36,"type":"quantitative","axis":null},"y":{"datum":-5,"type":"quantitative","axis":null}}},
      {"data":{"values":[{}]},"mark":{"type":"text","text":"Features","fontSize":24},"encoding":{"x":{"datum":187.87,"type":"quantitative","axis":null},"y":{"datum":-5,"type":"quantitative","axis":null}}},
      {"data":{"values":[{}]},"mark":{"type":"text","text":"Dynamic Section","fontSize":30,"align":"left"},"encoding":{"x":{"datum":-15.1,"type":"quantitative","axis":null},"y":{"datum":44.5,"type":"quantitative","axis":null}}},
      {"data":{"name":"seg"},"mark":{"type":"rule","strokeWidth":1.3,"color":"#000"},"encoding":{"x":{"field":"s","type":"quantitative","axis":null},"x2":{"field":"e"},"y":{"datum":38.27,"type":"quantitative","axis":null}}},
      {"data":{"name":"seg"},"mark":{"type":"rule","strokeWidth":1.3,"color":"#000"},"encoding":{"x":{"field":"s","type":"quantitative","axis":null},"y":{"datum":36.43,"type":"quantitative","axis":null},"y2":{"datum":39.77}}},
      {"data":{"name":"seg"},"mark":{"type":"rule","strokeWidth":1.3,"color":"#000"},"encoding":{"x":{"field":"e","type":"quantitative","axis":null},"y":{"datum":36.43,"type":"quantitative","axis":null},"y2":{"datum":39.77}}},
      {"data":{"name":"seg"},"mark":{"type":"point","shape":"M0,0L1,-0.35L1,0.35Z","size":200,"filled":true,"color":"#000","opacity":1},"encoding":{"x":{"field":"s","type":"quantitative","axis":null},"y":{"datum":38.27,"type":"quantitative","axis":null}}},
      {"data":{"name":"seg"},"mark":{"type":"point","shape":"M0,0L-1,-0.35L-1,0.35Z","size":200,"filled":true,"color":"#000","opacity":1},"encoding":{"x":{"field":"e","type":"quantitative","axis":null},"y":{"datum":38.27,"type":"quantitative","axis":null}}},
      {"data":{"name":"seg"},"mark":{"type":"text","fontSize":15,"baseline":"middle","color":"#000"},"encoding":{"x":{"field":"m","type":"quantitative","axis":null},"y":{"datum":37,"type":"quantitative","axis":null},"text":{"field":"lab"}}},
      {"data":{"values":[{}]},"mark":{"type":"rule","strokeWidth":1.3,"color":"#000"},"encoding":{"x":{"datum":83.2,"type":"quantitative","axis":null},"x2":{"datum":99.9},"y":{"datum":45.37,"type":"quantitative","axis":null}}},
      {"data":{"values":[{}]},"mark":{"type":"rule","strokeWidth":1.3,"color":"#000"},"encoding":{"x":{"datum":83.2,"type":"quantitative","axis":null},"y":{"datum":44.77,"type":"quantitative","axis":null},"y2":{"datum":46}}},
      {"data":{"values":[{}]},"mark":{"type":"rule","strokeWidth":1.3,"color":"#000"},"encoding":{"x":{"datum":99.9,"type":"quantitative","axis":null},"y":{"datum":44.77,"type":"quantitative","axis":null},"y2":{"datum":46}}},
      {"data":{"values":[{}]},"mark":{"type":"text","text":"10 sec","fontSize":19,"baseline":"middle","color":"#000"},"encoding":{"x":{"datum":91.7,"type":"quantitative","axis":null},"y":{"datum":44,"type":"quantitative","axis":null}}}
    ]},
    {"layer":[{"data":{"name":"sb1"},"mark":{"type":"rule","color":"#3A64C6","strokeWidth":1.6},"encoding":{"x":{"field":"t","type":"quantitative","axis":null},"y":{"field":"v","type":"quantitative","scale":{"domain":[-44.4,2.6],"nice":false,"zero":false},"axis":null},"y2":{"datum":0}}},{"data":{"name":"sb1"},"mark":{"type":"line","color":"#3A64C6","strokeWidth":1},"encoding":{"x":{"field":"t","type":"quantitative","axis":null},"y":{"field":"v","type":"quantitative","axis":null}}},{"data":{"values":[{}]},"mark":{"type":"text","text":"ch1","fontSize":23,"align":"right"},"encoding":{"x":{"datum":-3.96,"type":"quantitative","axis":null},"y":{"datum":0,"type":"quantitative","axis":null}}}]},
    {"layer":[{"data":{"name":"sb2"},"mark":{"type":"rule","color":"#D24E1E","strokeWidth":1.6},"encoding":{"x":{"field":"t","type":"quantitative","axis":null},"y":{"field":"v","type":"quantitative","scale":{"domain":[-38.34,8.66],"nice":false,"zero":false},"axis":null},"y2":{"datum":0}}},{"data":{"name":"sb2"},"mark":{"type":"line","color":"#D24E1E","strokeWidth":1},"encoding":{"x":{"field":"t","type":"quantitative","axis":null},"y":{"field":"v","type":"quantitative","axis":null}}},{"data":{"values":[{}]},"mark":{"type":"text","text":"ch2","fontSize":23,"align":"right"},"encoding":{"x":{"datum":-3.96,"type":"quantitative","axis":null},"y":{"datum":0,"type":"quantitative","axis":null}}}]},
    {"layer":[{"data":{"name":"sb3"},"mark":{"type":"rule","color":"#E6B02C","strokeWidth":1.6},"encoding":{"x":{"field":"t","type":"quantitative","axis":null},"y":{"field":"v","type":"quantitative","scale":{"domain":[-32.28,14.72],"nice":false,"zero":false},"axis":null},"y2":{"datum":0}}},{"data":{"name":"sb3"},"mark":{"type":"line","color":"#E6B02C","strokeWidth":1},"encoding":{"x":{"field":"t","type":"quantitative","axis":null},"y":{"field":"v","type":"quantitative","axis":null}}},{"data":{"values":[{}]},"mark":{"type":"text","text":"ch3","fontSize":23,"align":"right"},"encoding":{"x":{"datum":-3.96,"type":"quantitative","axis":null},"y":{"datum":0,"type":"quantitative","axis":null}}}]},
    {"layer":[{"data":{"name":"sb4"},"mark":{"type":"rule","color":"#671D83","strokeWidth":1.6},"encoding":{"x":{"field":"t","type":"quantitative","axis":null},"y":{"field":"v","type":"quantitative","scale":{"domain":[-26.22,20.78],"nice":false,"zero":false},"axis":null},"y2":{"datum":0}}},{"data":{"name":"sb4"},"mark":{"type":"line","color":"#671D83","strokeWidth":1},"encoding":{"x":{"field":"t","type":"quantitative","axis":null},"y":{"field":"v","type":"quantitative","axis":null}}},{"data":{"values":[{}]},"mark":{"type":"text","text":"ch4","fontSize":23,"align":"right"},"encoding":{"x":{"datum":-3.96,"type":"quantitative","axis":null},"y":{"datum":0,"type":"quantitative","axis":null}}}]},
    {"layer":[{"data":{"name":"sb5"},"mark":{"type":"rule","color":"#76AA2F","strokeWidth":1.6},"encoding":{"x":{"field":"t","type":"quantitative","axis":null},"y":{"field":"v","type":"quantitative","scale":{"domain":[-20.16,26.84],"nice":false,"zero":false},"axis":null},"y2":{"datum":0}}},{"data":{"name":"sb5"},"mark":{"type":"line","color":"#76AA2F","strokeWidth":1},"encoding":{"x":{"field":"t","type":"quantitative","axis":null},"y":{"field":"v","type":"quantitative","axis":null}}},{"data":{"values":[{}]},"mark":{"type":"text","text":"ch5","fontSize":23,"align":"right"},"encoding":{"x":{"datum":-3.96,"type":"quantitative","axis":null},"y":{"datum":0,"type":"quantitative","axis":null}}}]},
    {"layer":[{"data":{"name":"sb6"},"mark":{"type":"rule","color":"#72B6EE","strokeWidth":1.6},"encoding":{"x":{"field":"t","type":"quantitative","axis":null},"y":{"field":"v","type":"quantitative","scale":{"domain":[-14.1,32.9],"nice":false,"zero":false},"axis":null},"y2":{"datum":0}}},{"data":{"name":"sb6"},"mark":{"type":"line","color":"#72B6EE","strokeWidth":1},"encoding":{"x":{"field":"t","type":"quantitative","axis":null},"y":{"field":"v","type":"quantitative","axis":null}}},{"data":{"values":[{}]},"mark":{"type":"text","text":"ch6","fontSize":23,"align":"right"},"encoding":{"x":{"datum":-3.96,"type":"quantitative","axis":null},"y":{"datum":0,"type":"quantitative","axis":null}}}]}
   ]},
  {"columns":2,"bounds":"flush","spacing":{"row":44,"column":82},"resolve":{"scale":{"x":"independent","y":"independent","color":"independent"},"legend":{"color":"independent"}},
   "concat":[
    {"width":262,"height":112,"view":{"stroke":"#262626"},"layer":[
      {"data":{"name":"b_zc"},"mark":{"type":"line","strokeWidth":2.5,"interpolate":"monotone"},"encoding":{"x":{"field":"x","type":"quantitative","scale":{"domain":[0,60],"nice":false},"axis":{"values":[0,20,40,60],"labelExpr":"format(datum.value,'~g')","title":null}},"y":{"field":"y","type":"quantitative","scale":{"domain":[0,0.1],"nice":false},"axis":{"values":[0,0.05,0.1],"labelExpr":"format(datum.value,'~g')","title":"p.d.f."}},"color":{"field":"s","type":"nominal","scale":{"domain":[1,2,3],"range":["#2F5EC4","#CF4A1B","#E8B424"]},"legend":{"title":"\u200b\u2003\u2003\u2002skew\u2003kurt","labelExpr":"datum.value==1?'0.42\u2003\u20080.01':datum.value==2?'0.32\u2003-0.68':'0.36\u2003\u20080.18'"}}}},
      {"data":{"values":[{}]},"mark":{"type":"text","text":"ZC","align":"right","baseline":"middle","fontSize":15},"encoding":{"x":{"datum":54.5,"type":"quantitative"},"y":{"datum":0.0179,"type":"quantitative"}}}]},
    {"width":262,"height":112,"view":{"stroke":"#262626"},"layer":[
      {"data":{"name":"b_ssc"},"mark":{"type":"line","strokeWidth":2.5,"interpolate":"monotone"},"encoding":{"x":{"field":"x","type":"quantitative","scale":{"domain":[0,120],"nice":false},"axis":{"values":[0,20,40,60,80,100,120],"labelExpr":"format(datum.value,'~g')","title":null}},"y":{"field":"y","type":"quantitative","scale":{"domain":[0,0.1],"nice":false},"axis":{"values":[0,0.05,0.1],"labelExpr":"format(datum.value,'~g')","title":"p.d.f."}},"color":{"field":"s","type":"nominal","scale":{"domain":[1,2,3],"range":["#2F5EC4","#CF4A1B","#E8B424"]},"legend":{"title":"\u200b\u2003\u2003\u2002skew\u2003kurt","labelExpr":"datum.value==1?'\u20080.10\u2003-0.47':datum.value==2?'-0.11\u2003-0.76':'\u20080.17\u2003-0.21'"}}}},
      {"data":{"values":[{}]},"mark":{"type":"text","text":"SSC","align":"right","baseline":"middle","fontSize":15},"encoding":{"x":{"datum":109,"type":"quantitative"},"y":{"datum":0.0179,"type":"quantitative"}}}]},
    {"width":262,"height":112,"view":{"stroke":"#262626"},"layer":[
      {"data":{"name":"b_mav"},"mark":{"type":"line","strokeWidth":2.5,"interpolate":"monotone"},"encoding":{"x":{"field":"x","type":"quantitative","scale":{"domain":[0,500],"nice":false},"axis":{"values":[0,100,200,300,400,500],"labelExpr":"format(datum.value,'~g')","title":null}},"y":{"field":"y","type":"quantitative","scale":{"domain":[0,0.02],"nice":false},"axis":{"values":[0,0.01,0.02],"labelExpr":"format(datum.value,'~g')","title":"p.d.f."}},"color":{"field":"s","type":"nominal","scale":{"domain":[1,2,3],"range":["#2F5EC4","#CF4A1B","#E8B424"]},"legend":{"title":"\u200b\u2003\u2003\u2002skew\u2003kurt","labelExpr":"datum.value==1?'0.73\u2003\u20080.11':datum.value==2?'1.25\u2003\u20081.18':'0.67\u2003-0.13'"}}}},
      {"data":{"values":[{}]},"mark":{"type":"text","text":"MAV","align":"right","baseline":"middle","fontSize":15},"encoding":{"x":{"datum":454,"type":"quantitative"},"y":{"datum":0.00357,"type":"quantitative"}}}]},
    {"width":262,"height":112,"view":{"stroke":"#262626"},"layer":[
      {"data":{"name":"b_wl"},"mark":{"type":"line","strokeWidth":2.5,"interpolate":"monotone"},"encoding":{"x":{"field":"x","type":"quantitative","scale":{"domain":[0,300],"nice":false},"axis":{"values":[0,100,200,300],"labelExpr":"format(datum.value,'~g')","title":null}},"y":{"field":"y","type":"quantitative","scale":{"domain":[0,0.03],"nice":false},"axis":{"values":[0,0.01,0.02,0.03],"labelExpr":"format(datum.value,'~g')","title":"p.d.f."}},"color":{"field":"s","type":"nominal","scale":{"domain":[1,2,3],"range":["#2F5EC4","#CF4A1B","#E8B424"]},"legend":{"title":"\u200b\u2003\u2003\u2002skew\u2003kurt","labelExpr":"datum.value==1?'0.99\u2003\u20080.89':datum.value==2?'1.45\u2003\u20082.20':'0.72\u2003-0.01'"}}}},
      {"data":{"values":[{}]},"mark":{"type":"text","text":"WL","align":"right","baseline":"middle","fontSize":15},"encoding":{"x":{"datum":272.5,"type":"quantitative"},"y":{"datum":0.00536,"type":"quantitative"}}}]},
    {"width":262,"height":112,"view":{"stroke":"#262626"},"layer":[
      {"data":{"name":"b_lmav"},"mark":{"type":"line","strokeWidth":2.5,"interpolate":"monotone"},"encoding":{"x":{"field":"x","type":"quantitative","scale":{"domain":[0,12],"nice":false},"axis":{"values":[0,2,4,6,8,10,12],"labelExpr":"format(datum.value,'~g')","title":null}},"y":{"field":"y","type":"quantitative","scale":{"domain":[0,1],"nice":false},"axis":{"values":[0,0.5,1],"labelExpr":"format(datum.value,'~g')","title":"p.d.f."}},"color":{"field":"s","type":"nominal","scale":{"domain":[1,2,3],"range":["#2F5EC4","#CF4A1B","#E8B424"]},"legend":{"title":"\u200b\u2003\u2003\u2002skew\u2003kurt","labelExpr":"datum.value==1?'-0.35\u2003-0.96':datum.value==2?'\u20080.28\u2003-0.92':'-0.04\u2003-0.99'"}}}},
      {"data":{"values":[{}]},"mark":{"type":"text","text":"log(MAV)","align":"right","baseline":"middle","fontSize":15},"encoding":{"x":{"datum":10.9,"type":"quantitative"},"y":{"datum":0.179,"type":"quantitative"}}}]},
    {"width":262,"height":112,"view":{"stroke":"#262626"},"layer":[
      {"data":{"name":"b_lwl"},"mark":{"type":"line","strokeWidth":2.5,"interpolate":"monotone"},"encoding":{"x":{"field":"x","type":"quantitative","scale":{"domain":[0,12],"nice":false},"axis":{"values":[0,2,4,6,8,10,12],"labelExpr":"format(datum.value,'~g')","title":null}},"y":{"field":"y","type":"quantitative","scale":{"domain":[0,1],"nice":false},"axis":{"values":[0,0.5,1],"labelExpr":"format(datum.value,'~g')","title":"p.d.f."}},"color":{"field":"s","type":"nominal","scale":{"domain":[1,2,3],"range":["#2F5EC4","#CF4A1B","#E8B424"]},"legend":{"title":"\u200b\u2003\u2003\u2002skew\u2003kurt","labelExpr":"datum.value==1?'-0.18\u2003-0.87':datum.value==2?'\u20080.34\u2003-0.38':'\u20080.04\u2003-0.93'"}}}},
      {"data":{"values":[{}]},"mark":{"type":"text","text":"log(WL)","align":"right","baseline":"middle","fontSize":15},"encoding":{"x":{"datum":10.9,"type":"quantitative"},"y":{"datum":0.179,"type":"quantitative"}}}]}
   ]}
 ]}
]
}
